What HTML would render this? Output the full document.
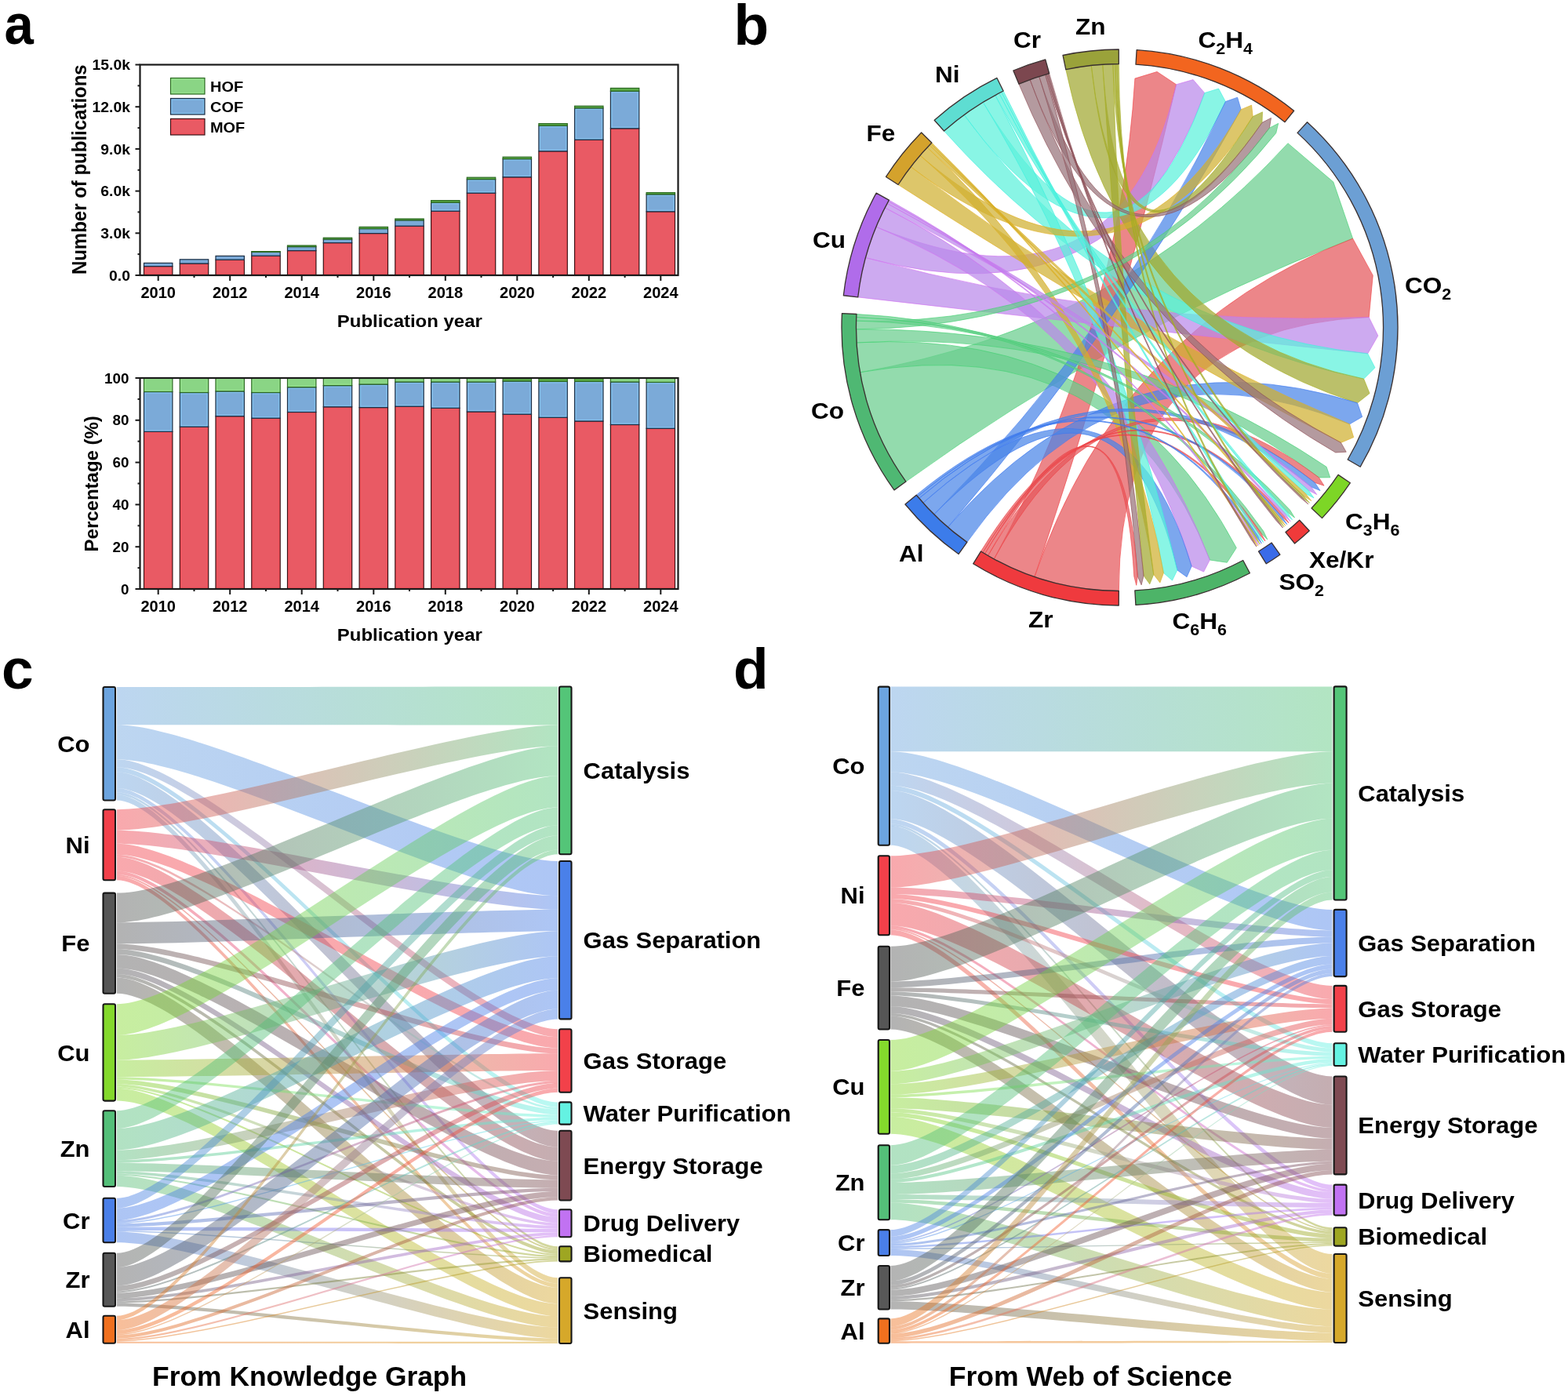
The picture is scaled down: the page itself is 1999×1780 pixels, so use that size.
<!DOCTYPE html>
<html><head><meta charset="utf-8"><title>Figure</title><style>html,body{margin:0;padding:0;background:#fff;width:1999px;height:1780px;overflow:hidden}svg{display:block}</style></head><body>
<svg width="1999" height="1780" viewBox="0 0 1999 1780" font-family="'Liberation Sans', Arial, sans-serif" fill="#000">
<rect width="1999" height="1780" fill="#FFFFFF"/>
<text transform="translate(5.5,56.0) scale(0.92,1)" font-size="73" text-anchor="start" font-weight="bold">a</text>
<text transform="translate(935.5,56.5) scale(1.0,1)" font-size="73" text-anchor="start" font-weight="bold">b</text>
<text transform="translate(2.0,878.0) scale(1.0,1)" font-size="73" text-anchor="start" font-weight="bold">c</text>
<text transform="translate(935.0,877.8) scale(1.0,1)" font-size="73" text-anchor="start" font-weight="bold">d</text>
<rect x="183.5" y="339.6" width="36.4" height="11.4" fill="#E95A64" stroke="#3a1014" stroke-width="1.2"/>
<rect x="185.1" y="341.2" width="33.2" height="8.2" fill="none" stroke="#F65058" stroke-width="1" stroke-opacity="0.8"/>
<rect x="183.5" y="335.4" width="36.4" height="4.2" fill="#7BAAD8" stroke="#1c2f45" stroke-width="1.2"/>
<rect x="229.3" y="336.0" width="36.4" height="15.0" fill="#E95A64" stroke="#3a1014" stroke-width="1.2"/>
<rect x="230.9" y="337.6" width="33.2" height="11.8" fill="none" stroke="#F65058" stroke-width="1" stroke-opacity="0.8"/>
<rect x="229.3" y="330.8" width="36.4" height="5.2" fill="#7BAAD8" stroke="#1c2f45" stroke-width="1.2"/>
<rect x="275.0" y="331.2" width="36.4" height="19.8" fill="#E95A64" stroke="#3a1014" stroke-width="1.2"/>
<rect x="276.6" y="332.8" width="33.2" height="16.6" fill="none" stroke="#F65058" stroke-width="1" stroke-opacity="0.8"/>
<rect x="275.0" y="326.4" width="36.4" height="4.8" fill="#7BAAD8" stroke="#1c2f45" stroke-width="1.2"/>
<rect x="320.8" y="326.2" width="36.4" height="24.8" fill="#E95A64" stroke="#3a1014" stroke-width="1.2"/>
<rect x="322.4" y="327.8" width="33.2" height="21.6" fill="none" stroke="#F65058" stroke-width="1" stroke-opacity="0.8"/>
<rect x="320.8" y="321.2" width="36.4" height="5.0" fill="#7BAAD8" stroke="#1c2f45" stroke-width="1.2"/>
<rect x="320.8" y="320.6" width="36.4" height="0.8" fill="#5BAA47" stroke="#2c6a22" stroke-width="1.2"/>
<rect x="366.5" y="319.6" width="36.4" height="31.4" fill="#E95A64" stroke="#3a1014" stroke-width="1.2"/>
<rect x="368.1" y="321.2" width="33.2" height="28.2" fill="none" stroke="#F65058" stroke-width="1" stroke-opacity="0.8"/>
<rect x="366.5" y="314.6" width="36.4" height="5.0" fill="#7BAAD8" stroke="#1c2f45" stroke-width="1.2"/>
<rect x="366.5" y="313.0" width="36.4" height="1.6" fill="#5BAA47" stroke="#2c6a22" stroke-width="1.2"/>
<rect x="412.3" y="309.6" width="36.4" height="41.4" fill="#E95A64" stroke="#3a1014" stroke-width="1.2"/>
<rect x="413.9" y="311.2" width="33.2" height="38.2" fill="none" stroke="#F65058" stroke-width="1" stroke-opacity="0.8"/>
<rect x="412.3" y="305.0" width="36.4" height="4.6" fill="#7BAAD8" stroke="#1c2f45" stroke-width="1.2"/>
<rect x="412.3" y="303.2" width="36.4" height="1.8" fill="#5BAA47" stroke="#2c6a22" stroke-width="1.2"/>
<rect x="458.1" y="297.6" width="36.4" height="53.4" fill="#E95A64" stroke="#3a1014" stroke-width="1.2"/>
<rect x="459.7" y="299.2" width="33.2" height="50.2" fill="none" stroke="#F65058" stroke-width="1" stroke-opacity="0.8"/>
<rect x="458.1" y="291.6" width="36.4" height="6.0" fill="#7BAAD8" stroke="#1c2f45" stroke-width="1.2"/>
<rect x="458.1" y="289.4" width="36.4" height="2.2" fill="#5BAA47" stroke="#2c6a22" stroke-width="1.2"/>
<rect x="503.8" y="288.2" width="36.4" height="62.8" fill="#E95A64" stroke="#3a1014" stroke-width="1.2"/>
<rect x="505.4" y="289.8" width="33.2" height="59.6" fill="none" stroke="#F65058" stroke-width="1" stroke-opacity="0.8"/>
<rect x="503.8" y="280.8" width="36.4" height="7.4" fill="#7BAAD8" stroke="#1c2f45" stroke-width="1.2"/>
<rect x="503.8" y="279.0" width="36.4" height="1.8" fill="#5BAA47" stroke="#2c6a22" stroke-width="1.2"/>
<rect x="549.6" y="269.2" width="36.4" height="81.8" fill="#E95A64" stroke="#3a1014" stroke-width="1.2"/>
<rect x="551.2" y="270.8" width="33.2" height="78.6" fill="none" stroke="#F65058" stroke-width="1" stroke-opacity="0.8"/>
<rect x="549.6" y="258.2" width="36.4" height="11.0" fill="#7BAAD8" stroke="#1c2f45" stroke-width="1.2"/>
<rect x="551.2" y="259.8" width="33.2" height="7.8" fill="none" stroke="#86CCF6" stroke-width="1" stroke-opacity="0.8"/>
<rect x="549.6" y="255.6" width="36.4" height="2.6" fill="#5BAA47" stroke="#2c6a22" stroke-width="1.2"/>
<rect x="595.3" y="246.2" width="36.4" height="104.8" fill="#E95A64" stroke="#3a1014" stroke-width="1.2"/>
<rect x="596.9" y="247.8" width="33.2" height="101.6" fill="none" stroke="#F65058" stroke-width="1" stroke-opacity="0.8"/>
<rect x="595.3" y="228.6" width="36.4" height="17.6" fill="#7BAAD8" stroke="#1c2f45" stroke-width="1.2"/>
<rect x="596.9" y="230.2" width="33.2" height="14.4" fill="none" stroke="#86CCF6" stroke-width="1" stroke-opacity="0.8"/>
<rect x="595.3" y="226.2" width="36.4" height="2.4" fill="#5BAA47" stroke="#2c6a22" stroke-width="1.2"/>
<rect x="641.1" y="225.8" width="36.4" height="125.2" fill="#E95A64" stroke="#3a1014" stroke-width="1.2"/>
<rect x="642.7" y="227.4" width="33.2" height="122.0" fill="none" stroke="#F65058" stroke-width="1" stroke-opacity="0.8"/>
<rect x="641.1" y="202.6" width="36.4" height="23.2" fill="#7BAAD8" stroke="#1c2f45" stroke-width="1.2"/>
<rect x="642.7" y="204.2" width="33.2" height="20.0" fill="none" stroke="#86CCF6" stroke-width="1" stroke-opacity="0.8"/>
<rect x="641.1" y="200.2" width="36.4" height="2.4" fill="#5BAA47" stroke="#2c6a22" stroke-width="1.2"/>
<rect x="686.9" y="192.8" width="36.4" height="158.2" fill="#E95A64" stroke="#3a1014" stroke-width="1.2"/>
<rect x="688.5" y="194.4" width="33.2" height="155.0" fill="none" stroke="#F65058" stroke-width="1" stroke-opacity="0.8"/>
<rect x="686.9" y="160.2" width="36.4" height="32.6" fill="#7BAAD8" stroke="#1c2f45" stroke-width="1.2"/>
<rect x="688.5" y="161.8" width="33.2" height="29.4" fill="none" stroke="#86CCF6" stroke-width="1" stroke-opacity="0.8"/>
<rect x="686.9" y="157.6" width="36.4" height="2.6" fill="#5BAA47" stroke="#2c6a22" stroke-width="1.2"/>
<rect x="732.6" y="178.2" width="36.4" height="172.8" fill="#E95A64" stroke="#3a1014" stroke-width="1.2"/>
<rect x="734.2" y="179.8" width="33.2" height="169.6" fill="none" stroke="#F65058" stroke-width="1" stroke-opacity="0.8"/>
<rect x="732.6" y="137.8" width="36.4" height="40.4" fill="#7BAAD8" stroke="#1c2f45" stroke-width="1.2"/>
<rect x="734.2" y="139.4" width="33.2" height="37.2" fill="none" stroke="#86CCF6" stroke-width="1" stroke-opacity="0.8"/>
<rect x="732.6" y="135.2" width="36.4" height="2.6" fill="#5BAA47" stroke="#2c6a22" stroke-width="1.2"/>
<rect x="778.4" y="163.8" width="36.4" height="187.2" fill="#E95A64" stroke="#3a1014" stroke-width="1.2"/>
<rect x="780.0" y="165.4" width="33.2" height="184.0" fill="none" stroke="#F65058" stroke-width="1" stroke-opacity="0.8"/>
<rect x="778.4" y="116.2" width="36.4" height="47.6" fill="#7BAAD8" stroke="#1c2f45" stroke-width="1.2"/>
<rect x="780.0" y="117.8" width="33.2" height="44.4" fill="none" stroke="#86CCF6" stroke-width="1" stroke-opacity="0.8"/>
<rect x="778.4" y="112.4" width="36.4" height="3.8" fill="#5BAA47" stroke="#2c6a22" stroke-width="1.2"/>
<rect x="824.1" y="269.8" width="36.4" height="81.2" fill="#E95A64" stroke="#3a1014" stroke-width="1.2"/>
<rect x="825.7" y="271.4" width="33.2" height="78.0" fill="none" stroke="#F65058" stroke-width="1" stroke-opacity="0.8"/>
<rect x="824.1" y="247.8" width="36.4" height="22.0" fill="#7BAAD8" stroke="#1c2f45" stroke-width="1.2"/>
<rect x="825.7" y="249.4" width="33.2" height="18.8" fill="none" stroke="#86CCF6" stroke-width="1" stroke-opacity="0.8"/>
<rect x="824.1" y="245.6" width="36.4" height="2.2" fill="#5BAA47" stroke="#2c6a22" stroke-width="1.2"/>
<rect x="178.5" y="82.5" width="686.0" height="268.5" fill="none" stroke="#1a1a1a" stroke-width="2.2"/>
<line x1="172.5" y1="351.0" x2="178.5" y2="351.0" stroke="#1a1a1a" stroke-width="2"/>
<text transform="translate(166.0,357.8) scale(1.03,1)" font-size="18.8" text-anchor="end" font-weight="bold">0.0</text>
<line x1="175.5" y1="324.1" x2="178.5" y2="324.1" stroke="#1a1a1a" stroke-width="2"/>
<line x1="172.5" y1="297.3" x2="178.5" y2="297.3" stroke="#1a1a1a" stroke-width="2"/>
<text transform="translate(166.0,304.1) scale(1.03,1)" font-size="18.8" text-anchor="end" font-weight="bold">3.0k</text>
<line x1="175.5" y1="270.4" x2="178.5" y2="270.4" stroke="#1a1a1a" stroke-width="2"/>
<line x1="172.5" y1="243.6" x2="178.5" y2="243.6" stroke="#1a1a1a" stroke-width="2"/>
<text transform="translate(166.0,250.4) scale(1.03,1)" font-size="18.8" text-anchor="end" font-weight="bold">6.0k</text>
<line x1="175.5" y1="216.8" x2="178.5" y2="216.8" stroke="#1a1a1a" stroke-width="2"/>
<line x1="172.5" y1="189.9" x2="178.5" y2="189.9" stroke="#1a1a1a" stroke-width="2"/>
<text transform="translate(166.0,196.7) scale(1.03,1)" font-size="18.8" text-anchor="end" font-weight="bold">9.0k</text>
<line x1="175.5" y1="163.1" x2="178.5" y2="163.1" stroke="#1a1a1a" stroke-width="2"/>
<line x1="172.5" y1="136.2" x2="178.5" y2="136.2" stroke="#1a1a1a" stroke-width="2"/>
<text transform="translate(166.0,143.0) scale(1.03,1)" font-size="18.8" text-anchor="end" font-weight="bold">12.0k</text>
<line x1="175.5" y1="109.3" x2="178.5" y2="109.3" stroke="#1a1a1a" stroke-width="2"/>
<line x1="172.5" y1="82.5" x2="178.5" y2="82.5" stroke="#1a1a1a" stroke-width="2"/>
<text transform="translate(166.0,89.3) scale(1.03,1)" font-size="18.8" text-anchor="end" font-weight="bold">15.0k</text>
<line x1="201.7" y1="351" x2="201.7" y2="358" stroke="#1a1a1a" stroke-width="2"/>
<text transform="translate(201.7,379.5) scale(1.03,1)" font-size="19.5" text-anchor="middle" font-weight="bold">2010</text>
<line x1="247.5" y1="351" x2="247.5" y2="354" stroke="#1a1a1a" stroke-width="2"/>
<line x1="293.2" y1="351" x2="293.2" y2="358" stroke="#1a1a1a" stroke-width="2"/>
<text transform="translate(293.2,379.5) scale(1.03,1)" font-size="19.5" text-anchor="middle" font-weight="bold">2012</text>
<line x1="339.0" y1="351" x2="339.0" y2="354" stroke="#1a1a1a" stroke-width="2"/>
<line x1="384.7" y1="351" x2="384.7" y2="358" stroke="#1a1a1a" stroke-width="2"/>
<text transform="translate(384.7,379.5) scale(1.03,1)" font-size="19.5" text-anchor="middle" font-weight="bold">2014</text>
<line x1="430.5" y1="351" x2="430.5" y2="354" stroke="#1a1a1a" stroke-width="2"/>
<line x1="476.3" y1="351" x2="476.3" y2="358" stroke="#1a1a1a" stroke-width="2"/>
<text transform="translate(476.3,379.5) scale(1.03,1)" font-size="19.5" text-anchor="middle" font-weight="bold">2016</text>
<line x1="522.0" y1="351" x2="522.0" y2="354" stroke="#1a1a1a" stroke-width="2"/>
<line x1="567.8" y1="351" x2="567.8" y2="358" stroke="#1a1a1a" stroke-width="2"/>
<text transform="translate(567.8,379.5) scale(1.03,1)" font-size="19.5" text-anchor="middle" font-weight="bold">2018</text>
<line x1="613.5" y1="351" x2="613.5" y2="354" stroke="#1a1a1a" stroke-width="2"/>
<line x1="659.3" y1="351" x2="659.3" y2="358" stroke="#1a1a1a" stroke-width="2"/>
<text transform="translate(659.3,379.5) scale(1.03,1)" font-size="19.5" text-anchor="middle" font-weight="bold">2020</text>
<line x1="705.1" y1="351" x2="705.1" y2="354" stroke="#1a1a1a" stroke-width="2"/>
<line x1="750.8" y1="351" x2="750.8" y2="358" stroke="#1a1a1a" stroke-width="2"/>
<text transform="translate(750.8,379.5) scale(1.03,1)" font-size="19.5" text-anchor="middle" font-weight="bold">2022</text>
<line x1="796.6" y1="351" x2="796.6" y2="354" stroke="#1a1a1a" stroke-width="2"/>
<line x1="842.3" y1="351" x2="842.3" y2="358" stroke="#1a1a1a" stroke-width="2"/>
<text transform="translate(842.3,379.5) scale(1.03,1)" font-size="19.5" text-anchor="middle" font-weight="bold">2024</text>
<text transform="translate(522.3,416.8) scale(1.0,1)" font-size="22" text-anchor="middle" font-weight="bold" textLength="185" lengthAdjust="spacingAndGlyphs">Publication year</text>
<text transform="translate(109.5,216.2) rotate(-90) scale(1,1.04)" font-size="24" text-anchor="middle" font-weight="bold">Number of publications</text>
<rect x="217.5" y="99.5" width="43.5" height="20.5" fill="#8AD585" stroke="#2c6a22" stroke-width="1.2"/>
<rect x="219.1" y="101.1" width="40.3" height="17.3" fill="none" stroke="#9BE88F" stroke-width="1" stroke-opacity="0.8"/>
<text transform="translate(268.0,116.5) scale(1.05,1)" font-size="19" text-anchor="start" font-weight="bold">HOF</text>
<rect x="217.5" y="125.5" width="43.5" height="20.5" fill="#7BAAD8" stroke="#1c2f45" stroke-width="1.2"/>
<rect x="219.1" y="127.1" width="40.3" height="17.3" fill="none" stroke="#86CCF6" stroke-width="1" stroke-opacity="0.8"/>
<text transform="translate(268.0,142.5) scale(1.05,1)" font-size="19" text-anchor="start" font-weight="bold">COF</text>
<rect x="217.5" y="151.5" width="43.5" height="20.5" fill="#E95A64" stroke="#3a1014" stroke-width="1.2"/>
<rect x="219.1" y="153.1" width="40.3" height="17.3" fill="none" stroke="#F65058" stroke-width="1" stroke-opacity="0.8"/>
<text transform="translate(268.0,168.5) scale(1.05,1)" font-size="19" text-anchor="start" font-weight="bold">MOF</text>
<rect x="183.5" y="550.4" width="36.4" height="200.6" fill="#E95A64" stroke="#3a1014" stroke-width="1.2"/>
<rect x="185.1" y="552.0" width="33.2" height="197.4" fill="none" stroke="#F65058" stroke-width="1" stroke-opacity="0.8"/>
<rect x="183.5" y="499.5" width="36.4" height="50.9" fill="#7BAAD8" stroke="#1c2f45" stroke-width="1.2"/>
<rect x="185.1" y="501.1" width="33.2" height="47.7" fill="none" stroke="#86CCF6" stroke-width="1" stroke-opacity="0.8"/>
<rect x="183.5" y="482.0" width="36.4" height="17.5" fill="#8AD585" stroke="#2c6a22" stroke-width="1.2"/>
<rect x="185.1" y="483.6" width="33.2" height="14.3" fill="none" stroke="#9BE88F" stroke-width="1" stroke-opacity="0.8"/>
<rect x="229.3" y="544.2" width="36.4" height="206.8" fill="#E95A64" stroke="#3a1014" stroke-width="1.2"/>
<rect x="230.9" y="545.8" width="33.2" height="203.6" fill="none" stroke="#F65058" stroke-width="1" stroke-opacity="0.8"/>
<rect x="229.3" y="500.5" width="36.4" height="43.7" fill="#7BAAD8" stroke="#1c2f45" stroke-width="1.2"/>
<rect x="230.9" y="502.1" width="33.2" height="40.5" fill="none" stroke="#86CCF6" stroke-width="1" stroke-opacity="0.8"/>
<rect x="229.3" y="482.0" width="36.4" height="18.5" fill="#8AD585" stroke="#2c6a22" stroke-width="1.2"/>
<rect x="230.9" y="483.6" width="33.2" height="15.3" fill="none" stroke="#9BE88F" stroke-width="1" stroke-opacity="0.8"/>
<rect x="275.0" y="530.7" width="36.4" height="220.3" fill="#E95A64" stroke="#3a1014" stroke-width="1.2"/>
<rect x="276.6" y="532.3" width="33.2" height="217.1" fill="none" stroke="#F65058" stroke-width="1" stroke-opacity="0.8"/>
<rect x="275.0" y="498.9" width="36.4" height="31.8" fill="#7BAAD8" stroke="#1c2f45" stroke-width="1.2"/>
<rect x="276.6" y="500.5" width="33.2" height="28.6" fill="none" stroke="#86CCF6" stroke-width="1" stroke-opacity="0.8"/>
<rect x="275.0" y="482.0" width="36.4" height="16.9" fill="#8AD585" stroke="#2c6a22" stroke-width="1.2"/>
<rect x="276.6" y="483.6" width="33.2" height="13.7" fill="none" stroke="#9BE88F" stroke-width="1" stroke-opacity="0.8"/>
<rect x="320.8" y="533.2" width="36.4" height="217.8" fill="#E95A64" stroke="#3a1014" stroke-width="1.2"/>
<rect x="322.4" y="534.8" width="33.2" height="214.6" fill="none" stroke="#F65058" stroke-width="1" stroke-opacity="0.8"/>
<rect x="320.8" y="500.5" width="36.4" height="32.7" fill="#7BAAD8" stroke="#1c2f45" stroke-width="1.2"/>
<rect x="322.4" y="502.1" width="33.2" height="29.5" fill="none" stroke="#86CCF6" stroke-width="1" stroke-opacity="0.8"/>
<rect x="320.8" y="482.0" width="36.4" height="18.5" fill="#8AD585" stroke="#2c6a22" stroke-width="1.2"/>
<rect x="322.4" y="483.6" width="33.2" height="15.3" fill="none" stroke="#9BE88F" stroke-width="1" stroke-opacity="0.8"/>
<rect x="366.5" y="525.5" width="36.4" height="225.5" fill="#E95A64" stroke="#3a1014" stroke-width="1.2"/>
<rect x="368.1" y="527.1" width="33.2" height="222.3" fill="none" stroke="#F65058" stroke-width="1" stroke-opacity="0.8"/>
<rect x="366.5" y="493.7" width="36.4" height="31.8" fill="#7BAAD8" stroke="#1c2f45" stroke-width="1.2"/>
<rect x="368.1" y="495.3" width="33.2" height="28.6" fill="none" stroke="#86CCF6" stroke-width="1" stroke-opacity="0.8"/>
<rect x="366.5" y="482.0" width="36.4" height="11.7" fill="#8AD585" stroke="#2c6a22" stroke-width="1.2"/>
<rect x="368.1" y="483.6" width="33.2" height="8.5" fill="none" stroke="#9BE88F" stroke-width="1" stroke-opacity="0.8"/>
<rect x="412.3" y="518.8" width="36.4" height="232.2" fill="#E95A64" stroke="#3a1014" stroke-width="1.2"/>
<rect x="413.9" y="520.4" width="33.2" height="229.0" fill="none" stroke="#F65058" stroke-width="1" stroke-opacity="0.8"/>
<rect x="412.3" y="491.6" width="36.4" height="27.2" fill="#7BAAD8" stroke="#1c2f45" stroke-width="1.2"/>
<rect x="413.9" y="493.2" width="33.2" height="24.0" fill="none" stroke="#86CCF6" stroke-width="1" stroke-opacity="0.8"/>
<rect x="412.3" y="482.0" width="36.4" height="9.6" fill="#8AD585" stroke="#2c6a22" stroke-width="1.2"/>
<rect x="413.9" y="483.6" width="33.2" height="6.4" fill="none" stroke="#9BE88F" stroke-width="1" stroke-opacity="0.8"/>
<rect x="458.1" y="519.6" width="36.4" height="231.4" fill="#E95A64" stroke="#3a1014" stroke-width="1.2"/>
<rect x="459.7" y="521.2" width="33.2" height="228.2" fill="none" stroke="#F65058" stroke-width="1" stroke-opacity="0.8"/>
<rect x="458.1" y="490.0" width="36.4" height="29.6" fill="#7BAAD8" stroke="#1c2f45" stroke-width="1.2"/>
<rect x="459.7" y="491.6" width="33.2" height="26.4" fill="none" stroke="#86CCF6" stroke-width="1" stroke-opacity="0.8"/>
<rect x="458.1" y="482.0" width="36.4" height="8.0" fill="#8AD585" stroke="#2c6a22" stroke-width="1.2"/>
<rect x="503.8" y="518.2" width="36.4" height="232.8" fill="#E95A64" stroke="#3a1014" stroke-width="1.2"/>
<rect x="505.4" y="519.8" width="33.2" height="229.6" fill="none" stroke="#F65058" stroke-width="1" stroke-opacity="0.8"/>
<rect x="503.8" y="487.0" width="36.4" height="31.2" fill="#7BAAD8" stroke="#1c2f45" stroke-width="1.2"/>
<rect x="505.4" y="488.6" width="33.2" height="28.0" fill="none" stroke="#86CCF6" stroke-width="1" stroke-opacity="0.8"/>
<rect x="503.8" y="482.0" width="36.4" height="5.0" fill="#8AD585" stroke="#2c6a22" stroke-width="1.2"/>
<rect x="549.6" y="520.3" width="36.4" height="230.7" fill="#E95A64" stroke="#3a1014" stroke-width="1.2"/>
<rect x="551.2" y="521.9" width="33.2" height="227.5" fill="none" stroke="#F65058" stroke-width="1" stroke-opacity="0.8"/>
<rect x="549.6" y="487.0" width="36.4" height="33.3" fill="#7BAAD8" stroke="#1c2f45" stroke-width="1.2"/>
<rect x="551.2" y="488.6" width="33.2" height="30.1" fill="none" stroke="#86CCF6" stroke-width="1" stroke-opacity="0.8"/>
<rect x="549.6" y="482.0" width="36.4" height="5.0" fill="#8AD585" stroke="#2c6a22" stroke-width="1.2"/>
<rect x="595.3" y="525.0" width="36.4" height="226.0" fill="#E95A64" stroke="#3a1014" stroke-width="1.2"/>
<rect x="596.9" y="526.6" width="33.2" height="222.8" fill="none" stroke="#F65058" stroke-width="1" stroke-opacity="0.8"/>
<rect x="595.3" y="487.0" width="36.4" height="38.0" fill="#7BAAD8" stroke="#1c2f45" stroke-width="1.2"/>
<rect x="596.9" y="488.6" width="33.2" height="34.8" fill="none" stroke="#86CCF6" stroke-width="1" stroke-opacity="0.8"/>
<rect x="595.3" y="482.0" width="36.4" height="5.0" fill="#8AD585" stroke="#2c6a22" stroke-width="1.2"/>
<rect x="641.1" y="528.2" width="36.4" height="222.8" fill="#E95A64" stroke="#3a1014" stroke-width="1.2"/>
<rect x="642.7" y="529.8" width="33.2" height="219.6" fill="none" stroke="#F65058" stroke-width="1" stroke-opacity="0.8"/>
<rect x="641.1" y="486.0" width="36.4" height="42.2" fill="#7BAAD8" stroke="#1c2f45" stroke-width="1.2"/>
<rect x="642.7" y="487.6" width="33.2" height="39.0" fill="none" stroke="#86CCF6" stroke-width="1" stroke-opacity="0.8"/>
<rect x="641.1" y="482.0" width="36.4" height="4.0" fill="#5BAA47" stroke="#2c6a22" stroke-width="1.2"/>
<rect x="686.9" y="532.3" width="36.4" height="218.7" fill="#E95A64" stroke="#3a1014" stroke-width="1.2"/>
<rect x="688.5" y="533.9" width="33.2" height="215.5" fill="none" stroke="#F65058" stroke-width="1" stroke-opacity="0.8"/>
<rect x="686.9" y="486.4" width="36.4" height="45.9" fill="#7BAAD8" stroke="#1c2f45" stroke-width="1.2"/>
<rect x="688.5" y="488.0" width="33.2" height="42.7" fill="none" stroke="#86CCF6" stroke-width="1" stroke-opacity="0.8"/>
<rect x="686.9" y="482.0" width="36.4" height="4.4" fill="#5BAA47" stroke="#2c6a22" stroke-width="1.2"/>
<rect x="732.6" y="537.0" width="36.4" height="214.0" fill="#E95A64" stroke="#3a1014" stroke-width="1.2"/>
<rect x="734.2" y="538.6" width="33.2" height="210.8" fill="none" stroke="#F65058" stroke-width="1" stroke-opacity="0.8"/>
<rect x="732.6" y="486.4" width="36.4" height="50.6" fill="#7BAAD8" stroke="#1c2f45" stroke-width="1.2"/>
<rect x="734.2" y="488.0" width="33.2" height="47.4" fill="none" stroke="#86CCF6" stroke-width="1" stroke-opacity="0.8"/>
<rect x="732.6" y="482.0" width="36.4" height="4.4" fill="#5BAA47" stroke="#2c6a22" stroke-width="1.2"/>
<rect x="778.4" y="541.5" width="36.4" height="209.5" fill="#E95A64" stroke="#3a1014" stroke-width="1.2"/>
<rect x="780.0" y="543.1" width="33.2" height="206.3" fill="none" stroke="#F65058" stroke-width="1" stroke-opacity="0.8"/>
<rect x="778.4" y="487.0" width="36.4" height="54.5" fill="#7BAAD8" stroke="#1c2f45" stroke-width="1.2"/>
<rect x="780.0" y="488.6" width="33.2" height="51.3" fill="none" stroke="#86CCF6" stroke-width="1" stroke-opacity="0.8"/>
<rect x="778.4" y="482.0" width="36.4" height="5.0" fill="#8AD585" stroke="#2c6a22" stroke-width="1.2"/>
<rect x="824.1" y="546.3" width="36.4" height="204.7" fill="#E95A64" stroke="#3a1014" stroke-width="1.2"/>
<rect x="825.7" y="547.9" width="33.2" height="201.5" fill="none" stroke="#F65058" stroke-width="1" stroke-opacity="0.8"/>
<rect x="824.1" y="487.4" width="36.4" height="58.9" fill="#7BAAD8" stroke="#1c2f45" stroke-width="1.2"/>
<rect x="825.7" y="489.0" width="33.2" height="55.7" fill="none" stroke="#86CCF6" stroke-width="1" stroke-opacity="0.8"/>
<rect x="824.1" y="482.0" width="36.4" height="5.4" fill="#8AD585" stroke="#2c6a22" stroke-width="1.2"/>
<rect x="178.5" y="482" width="686.0" height="269" fill="none" stroke="#1a1a1a" stroke-width="2.2"/>
<line x1="172.5" y1="751.0" x2="178.5" y2="751.0" stroke="#1a1a1a" stroke-width="2"/>
<text transform="translate(164.5,757.5) scale(1.02,1)" font-size="18.5" text-anchor="end" font-weight="bold">0</text>
<line x1="175.5" y1="724.1" x2="178.5" y2="724.1" stroke="#1a1a1a" stroke-width="2"/>
<line x1="172.5" y1="697.2" x2="178.5" y2="697.2" stroke="#1a1a1a" stroke-width="2"/>
<text transform="translate(164.5,703.7) scale(1.02,1)" font-size="18.5" text-anchor="end" font-weight="bold">20</text>
<line x1="175.5" y1="670.3" x2="178.5" y2="670.3" stroke="#1a1a1a" stroke-width="2"/>
<line x1="172.5" y1="643.4" x2="178.5" y2="643.4" stroke="#1a1a1a" stroke-width="2"/>
<text transform="translate(164.5,649.9) scale(1.02,1)" font-size="18.5" text-anchor="end" font-weight="bold">40</text>
<line x1="175.5" y1="616.5" x2="178.5" y2="616.5" stroke="#1a1a1a" stroke-width="2"/>
<line x1="172.5" y1="589.6" x2="178.5" y2="589.6" stroke="#1a1a1a" stroke-width="2"/>
<text transform="translate(164.5,596.1) scale(1.02,1)" font-size="18.5" text-anchor="end" font-weight="bold">60</text>
<line x1="175.5" y1="562.7" x2="178.5" y2="562.7" stroke="#1a1a1a" stroke-width="2"/>
<line x1="172.5" y1="535.8" x2="178.5" y2="535.8" stroke="#1a1a1a" stroke-width="2"/>
<text transform="translate(164.5,542.3) scale(1.02,1)" font-size="18.5" text-anchor="end" font-weight="bold">80</text>
<line x1="175.5" y1="508.9" x2="178.5" y2="508.9" stroke="#1a1a1a" stroke-width="2"/>
<line x1="172.5" y1="482.0" x2="178.5" y2="482.0" stroke="#1a1a1a" stroke-width="2"/>
<text transform="translate(164.5,488.5) scale(1.02,1)" font-size="18.5" text-anchor="end" font-weight="bold">100</text>
<line x1="201.7" y1="751" x2="201.7" y2="758" stroke="#1a1a1a" stroke-width="2"/>
<text transform="translate(201.7,779.5) scale(1.03,1)" font-size="19.5" text-anchor="middle" font-weight="bold">2010</text>
<line x1="247.5" y1="751" x2="247.5" y2="754" stroke="#1a1a1a" stroke-width="2"/>
<line x1="293.2" y1="751" x2="293.2" y2="758" stroke="#1a1a1a" stroke-width="2"/>
<text transform="translate(293.2,779.5) scale(1.03,1)" font-size="19.5" text-anchor="middle" font-weight="bold">2012</text>
<line x1="339.0" y1="751" x2="339.0" y2="754" stroke="#1a1a1a" stroke-width="2"/>
<line x1="384.7" y1="751" x2="384.7" y2="758" stroke="#1a1a1a" stroke-width="2"/>
<text transform="translate(384.7,779.5) scale(1.03,1)" font-size="19.5" text-anchor="middle" font-weight="bold">2014</text>
<line x1="430.5" y1="751" x2="430.5" y2="754" stroke="#1a1a1a" stroke-width="2"/>
<line x1="476.3" y1="751" x2="476.3" y2="758" stroke="#1a1a1a" stroke-width="2"/>
<text transform="translate(476.3,779.5) scale(1.03,1)" font-size="19.5" text-anchor="middle" font-weight="bold">2016</text>
<line x1="522.0" y1="751" x2="522.0" y2="754" stroke="#1a1a1a" stroke-width="2"/>
<line x1="567.8" y1="751" x2="567.8" y2="758" stroke="#1a1a1a" stroke-width="2"/>
<text transform="translate(567.8,779.5) scale(1.03,1)" font-size="19.5" text-anchor="middle" font-weight="bold">2018</text>
<line x1="613.5" y1="751" x2="613.5" y2="754" stroke="#1a1a1a" stroke-width="2"/>
<line x1="659.3" y1="751" x2="659.3" y2="758" stroke="#1a1a1a" stroke-width="2"/>
<text transform="translate(659.3,779.5) scale(1.03,1)" font-size="19.5" text-anchor="middle" font-weight="bold">2020</text>
<line x1="705.1" y1="751" x2="705.1" y2="754" stroke="#1a1a1a" stroke-width="2"/>
<line x1="750.8" y1="751" x2="750.8" y2="758" stroke="#1a1a1a" stroke-width="2"/>
<text transform="translate(750.8,779.5) scale(1.03,1)" font-size="19.5" text-anchor="middle" font-weight="bold">2022</text>
<line x1="796.6" y1="751" x2="796.6" y2="754" stroke="#1a1a1a" stroke-width="2"/>
<line x1="842.3" y1="751" x2="842.3" y2="758" stroke="#1a1a1a" stroke-width="2"/>
<text transform="translate(842.3,779.5) scale(1.03,1)" font-size="19.5" text-anchor="middle" font-weight="bold">2024</text>
<text transform="translate(522.3,816.8) scale(1.0,1)" font-size="22" text-anchor="middle" font-weight="bold" textLength="185" lengthAdjust="spacingAndGlyphs">Publication year</text>
<text transform="translate(124.5,616.8) rotate(-90) scale(1,0.98)" font-size="24" text-anchor="middle" font-weight="bold">Percentage (%)</text>
<path d="M1096.41,474.73 A336.0,336.0 0 0 0 1154.98,614.05 Q1427.5,417.5 1724.60,304.13 L1699.88,232.09 L1641.93,182.67 Q1427.5,417.5 1096.41,474.73 Z" fill="#69CD8D" fill-opacity="0.72" stroke="#3FD070" stroke-opacity="0.7" stroke-width="0.9"/>
<path d="M1318.89,735.46 A336.0,336.0 0 0 0 1426.33,753.50 Q1427.5,417.5 1745.23,404.49 L1750.25,351.16 L1724.60,304.13 Q1427.5,417.5 1318.89,735.46 Z" fill="#E5575B" fill-opacity="0.72" stroke="#F03C40" stroke-opacity="0.7" stroke-width="0.9"/>
<path d="M1267.23,712.81 A336.0,336.0 0 0 0 1318.89,735.46 Q1427.5,417.5 1499.58,107.78 L1475.07,91.45 L1446.91,100.09 Q1427.5,417.5 1267.23,712.81 Z" fill="#E5575B" fill-opacity="0.72" stroke="#F03C40" stroke-opacity="0.7" stroke-width="0.9"/>
<path d="M1103.49,328.54 A336.0,336.0 0 0 0 1093.73,378.88 Q1427.5,417.5 1743.74,450.89 L1756.83,428.09 L1745.23,404.49 Q1427.5,417.5 1103.49,328.54 Z" fill="#BA89EA" fill-opacity="0.72" stroke="#D070F0" stroke-opacity="0.7" stroke-width="0.9"/>
<path d="M1116.94,289.25 A336.0,336.0 0 0 0 1103.49,328.54 Q1427.5,417.5 1535.74,118.49 L1521.08,101.57 L1499.58,107.78 Q1427.5,417.5 1116.94,289.25 Z" fill="#BA89EA" fill-opacity="0.72" stroke="#D070F0" stroke-opacity="0.7" stroke-width="0.9"/>
<path d="M1092.06,436.89 A336.0,336.0 0 0 0 1096.41,474.73 Q1427.5,417.5 1542.36,714.03 L1564.33,717.25 L1576.30,698.54 Q1427.5,417.5 1092.06,436.89 Z" fill="#69CD8D" fill-opacity="0.72" stroke="#3FD070" stroke-opacity="0.7" stroke-width="0.9"/>
<path d="M1229.11,146.32 A336.0,336.0 0 0 0 1203.55,167.02 Q1427.5,417.5 1738.66,483.12 L1752.97,468.86 L1743.74,450.89 Q1427.5,417.5 1229.11,146.32 Z" fill="#5CF1DB" fill-opacity="0.72" stroke="#3CF0E0" stroke-opacity="0.7" stroke-width="0.9"/>
<path d="M1391.24,83.46 A336.0,336.0 0 0 0 1358.79,88.60 Q1427.5,417.5 1730.55,513.87 L1746.11,501.53 L1738.66,483.12 Q1427.5,417.5 1391.24,83.46 Z" fill="#A1A830" fill-opacity="0.72" stroke="#A8B020" stroke-opacity="0.7" stroke-width="0.9"/>
<path d="M1253.23,130.22 A336.0,336.0 0 0 0 1229.11,146.32 Q1427.5,417.5 1562.40,129.53 L1553.59,113.08 L1535.74,118.49 Q1427.5,417.5 1253.23,130.22 Z" fill="#5CF1DB" fill-opacity="0.72" stroke="#3CF0E0" stroke-opacity="0.7" stroke-width="0.9"/>
<path d="M1208.37,672.21 A336.0,336.0 0 0 0 1232.86,691.38 Q1427.5,417.5 1720.60,540.85 L1736.67,531.45 L1730.55,513.87 Q1427.5,417.5 1208.37,672.21 Z" fill="#4985E7" fill-opacity="0.72" stroke="#3C78F0" stroke-opacity="0.7" stroke-width="0.9"/>
<path d="M1161.15,212.67 A336.0,336.0 0 0 0 1145.07,235.49 Q1427.5,417.5 1709.55,564.38 L1725.72,557.62 L1720.60,540.85 Q1427.5,417.5 1161.15,212.67 Z" fill="#D0B030" fill-opacity="0.72" stroke="#E0B020" stroke-opacity="0.7" stroke-width="0.9"/>
<path d="M1128.19,264.83 A336.0,336.0 0 0 0 1116.94,289.25 Q1427.5,417.5 1519.17,722.00 L1534.58,729.12 L1542.36,714.03 Q1427.5,417.5 1128.19,264.83 Z" fill="#BA89EA" fill-opacity="0.72" stroke="#D070F0" stroke-opacity="0.7" stroke-width="0.9"/>
<path d="M1190.80,655.97 A336.0,336.0 0 0 0 1208.37,672.21 Q1427.5,417.5 1582.15,139.64 L1577.60,124.17 L1562.40,129.53 Q1427.5,417.5 1190.80,655.97 Z" fill="#4985E7" fill-opacity="0.72" stroke="#3C78F0" stroke-opacity="0.7" stroke-width="0.9"/>
<path d="M1176.80,641.21 A336.0,336.0 0 0 0 1190.80,655.97 Q1427.5,417.5 1500.88,726.92 L1513.05,735.70 L1519.17,722.00 Q1427.5,417.5 1176.80,641.21 Z" fill="#4985E7" fill-opacity="0.72" stroke="#3C78F0" stroke-opacity="0.7" stroke-width="0.9"/>
<path d="M1268.74,121.38 A336.0,336.0 0 0 0 1253.23,130.22 Q1427.5,417.5 1483.42,730.54 L1494.51,740.11 L1500.88,726.92 Q1427.5,417.5 1268.74,121.38 Z" fill="#5CF1DB" fill-opacity="0.72" stroke="#3CF0E0" stroke-opacity="0.7" stroke-width="0.9"/>
<path d="M1172.97,198.16 A336.0,336.0 0 0 0 1161.15,212.67 Q1427.5,417.5 1597.19,148.56 L1595.60,134.11 L1582.15,139.64 Q1427.5,417.5 1172.97,198.16 Z" fill="#D0B030" fill-opacity="0.72" stroke="#E0B020" stroke-opacity="0.7" stroke-width="0.9"/>
<path d="M1091.51,419.83 A336.0,336.0 0 0 0 1092.06,436.89 Q1427.5,417.5 1681.47,608.88 L1695.75,608.84 L1691.13,595.32 Q1427.5,417.5 1091.51,419.83 Z" fill="#69CD8D" fill-opacity="0.72" stroke="#3FD070" stroke-opacity="0.7" stroke-width="0.9"/>
<path d="M1313.13,101.56 A336.0,336.0 0 0 0 1298.92,107.08 Q1427.5,417.5 1702.62,576.98 L1716.23,576.26 L1709.55,564.38 Q1427.5,417.5 1313.13,101.56 Z" fill="#97737A" fill-opacity="0.72" stroke="#8C4850" stroke-opacity="0.7" stroke-width="0.9"/>
<path d="M1405.76,82.20 A336.0,336.0 0 0 0 1391.24,83.46 Q1427.5,417.5 1608.99,156.37 L1609.48,142.81 L1597.19,148.56 Q1427.5,417.5 1405.76,82.20 Z" fill="#A1A830" fill-opacity="0.72" stroke="#A8B020" stroke-opacity="0.7" stroke-width="0.9"/>
<path d="M1182.09,188.00 A336.0,336.0 0 0 0 1172.97,198.16 Q1427.5,417.5 1470.76,732.54 L1478.89,742.97 L1483.42,730.54 Q1427.5,417.5 1182.09,188.00 Z" fill="#D0B030" fill-opacity="0.72" stroke="#E0B020" stroke-opacity="0.7" stroke-width="0.9"/>
<path d="M1418.90,81.61 A336.0,336.0 0 0 0 1405.76,82.20 Q1427.5,417.5 1458.03,734.03 L1465.74,744.77 L1470.76,732.54 Q1427.5,417.5 1418.90,81.61 Z" fill="#A1A830" fill-opacity="0.72" stroke="#A8B020" stroke-opacity="0.7" stroke-width="0.9"/>
<path d="M1324.79,97.58 A336.0,336.0 0 0 0 1313.13,101.56 Q1427.5,417.5 1618.43,163.20 L1620.48,150.42 L1608.99,156.37 Q1427.5,417.5 1324.79,97.58 Z" fill="#97737A" fill-opacity="0.72" stroke="#8C4850" stroke-opacity="0.7" stroke-width="0.9"/>
<path d="M1091.61,409.03 A336.0,336.0 0 0 0 1091.51,419.83 Q1427.5,417.5 1626.76,169.67 L1629.68,157.32 L1618.43,163.20 Q1427.5,417.5 1091.61,409.03 Z" fill="#69CD8D" fill-opacity="0.72" stroke="#3FD070" stroke-opacity="0.7" stroke-width="0.9"/>
<path d="M1259.53,708.50 A336.0,336.0 0 0 0 1267.23,712.81 Q1427.5,417.5 1676.37,615.46 L1688.03,619.23 L1681.47,608.88 Q1427.5,417.5 1259.53,708.50 Z" fill="#E5575B" fill-opacity="0.72" stroke="#F03C40" stroke-opacity="0.7" stroke-width="0.9"/>
<path d="M1332.63,95.17 A336.0,336.0 0 0 0 1324.79,97.58 Q1427.5,417.5 1450.25,734.68 L1455.11,745.84 L1458.03,734.03 Q1427.5,417.5 1332.63,95.17 Z" fill="#97737A" fill-opacity="0.72" stroke="#8C4850" stroke-opacity="0.7" stroke-width="0.9"/>
<path d="M1171.69,635.35 A336.0,336.0 0 0 0 1176.80,641.21 Q1427.5,417.5 1671.81,621.05 L1683.03,625.53 L1676.37,615.46 Q1427.5,417.5 1171.69,635.35 Z" fill="#4985E7" fill-opacity="0.72" stroke="#3C78F0" stroke-opacity="0.7" stroke-width="0.9"/>
<path d="M1131.01,259.41 A336.0,336.0 0 0 0 1128.19,264.83 Q1427.5,417.5 1668.22,625.29 L1678.80,630.62 L1671.81,621.05 Q1427.5,417.5 1131.01,259.41 Z" fill="#BA89EA" fill-opacity="0.72" stroke="#D070F0" stroke-opacity="0.7" stroke-width="0.9"/>
<path d="M1273.67,118.78 A336.0,336.0 0 0 0 1268.74,121.38 Q1427.5,417.5 1664.56,629.46 L1675.04,634.97 L1668.22,625.29 Q1427.5,417.5 1273.67,118.78 Z" fill="#5CF1DB" fill-opacity="0.72" stroke="#3CF0E0" stroke-opacity="0.7" stroke-width="0.9"/>
<path d="M1091.75,404.48 A336.0,336.0 0 0 0 1091.61,409.03 Q1427.5,417.5 1641.11,653.08 L1650.53,660.04 L1644.38,650.07 Q1427.5,417.5 1091.75,404.48 Z" fill="#69CD8D" fill-opacity="0.72" stroke="#3FD070" stroke-opacity="0.7" stroke-width="0.9"/>
<path d="M1255.47,706.12 A336.0,336.0 0 0 0 1259.53,708.50 Q1427.5,417.5 1445.81,734.97 L1448.77,746.31 L1450.25,734.68 Q1427.5,417.5 1255.47,706.12 Z" fill="#E5575B" fill-opacity="0.72" stroke="#F03C40" stroke-opacity="0.7" stroke-width="0.9"/>
<path d="M1184.95,184.98 A336.0,336.0 0 0 0 1182.09,188.00 Q1427.5,417.5 1661.95,632.34 L1671.79,638.62 L1664.56,629.46 Q1427.5,417.5 1184.95,184.98 Z" fill="#D0B030" fill-opacity="0.72" stroke="#E0B020" stroke-opacity="0.7" stroke-width="0.9"/>
<path d="M1091.93,400.50 A336.0,336.0 0 0 0 1091.75,404.48 Q1427.5,417.5 1607.62,679.57 L1615.79,687.90 L1610.81,677.35 Q1427.5,417.5 1091.93,400.50 Z" fill="#69CD8D" fill-opacity="0.72" stroke="#3FD070" stroke-opacity="0.7" stroke-width="0.9"/>
<path d="M1276.66,117.26 A336.0,336.0 0 0 0 1273.67,118.78 Q1427.5,417.5 1638.63,655.30 L1647.55,662.75 L1641.11,653.08 Q1427.5,417.5 1276.66,117.26 Z" fill="#5CF1DB" fill-opacity="0.72" stroke="#3CF0E0" stroke-opacity="0.7" stroke-width="0.9"/>
<path d="M1421.75,81.55 A336.0,336.0 0 0 0 1418.90,81.61 Q1427.5,417.5 1660.07,634.38 L1669.46,641.16 L1661.95,632.34 Q1427.5,417.5 1421.75,81.55 Z" fill="#A1A830" fill-opacity="0.72" stroke="#A8B020" stroke-opacity="0.7" stroke-width="0.9"/>
<path d="M1252.95,704.60 A336.0,336.0 0 0 0 1255.47,706.12 Q1427.5,417.5 1634.45,658.95 L1643.02,666.74 L1636.55,657.13 Q1427.5,417.5 1252.95,704.60 Z" fill="#E5575B" fill-opacity="0.72" stroke="#F03C40" stroke-opacity="0.7" stroke-width="0.9"/>
<path d="M1169.76,633.06 A336.0,336.0 0 0 0 1171.69,635.35 Q1427.5,417.5 1632.33,660.75 L1640.84,668.61 L1634.45,658.95 Q1427.5,417.5 1169.76,633.06 Z" fill="#4985E7" fill-opacity="0.72" stroke="#3C78F0" stroke-opacity="0.7" stroke-width="0.9"/>
<path d="M1132.46,256.72 A336.0,336.0 0 0 0 1131.01,259.41 Q1427.5,417.5 1636.55,657.13 L1645.19,664.85 L1638.63,655.30 Q1427.5,417.5 1132.46,256.72 Z" fill="#BA89EA" fill-opacity="0.72" stroke="#D070F0" stroke-opacity="0.7" stroke-width="0.9"/>
<path d="M1250.44,703.06 A336.0,336.0 0 0 0 1252.95,704.60 Q1427.5,417.5 1605.32,681.13 L1612.94,689.86 L1607.62,679.57 Q1427.5,417.5 1250.44,703.06 Z" fill="#E5575B" fill-opacity="0.72" stroke="#F03C40" stroke-opacity="0.7" stroke-width="0.9"/>
<path d="M1279.15,116.02 A336.0,336.0 0 0 0 1276.66,117.26 Q1427.5,417.5 1603.02,682.68 L1610.56,691.47 L1605.32,681.13 Q1427.5,417.5 1279.15,116.02 Z" fill="#5CF1DB" fill-opacity="0.72" stroke="#3CF0E0" stroke-opacity="0.7" stroke-width="0.9"/>
<path d="M1186.60,183.27 A336.0,336.0 0 0 0 1184.95,184.98 Q1427.5,417.5 1630.63,662.17 L1638.86,670.28 L1632.33,660.75 Q1427.5,417.5 1186.60,183.27 Z" fill="#D0B030" fill-opacity="0.72" stroke="#E0B020" stroke-opacity="0.7" stroke-width="0.9"/>
<path d="M1424.04,81.52 A336.0,336.0 0 0 0 1421.75,81.55 Q1427.5,417.5 1628.92,663.58 L1637.09,671.75 L1630.63,662.17 Q1427.5,417.5 1424.04,81.52 Z" fill="#A1A830" fill-opacity="0.72" stroke="#A8B020" stroke-opacity="0.7" stroke-width="0.9"/>
<path d="M1168.23,631.22 A336.0,336.0 0 0 0 1169.76,633.06 Q1427.5,417.5 1601.16,683.89 L1608.40,692.90 L1603.02,682.68 Q1427.5,417.5 1168.23,631.22 Z" fill="#4985E7" fill-opacity="0.72" stroke="#3C78F0" stroke-opacity="0.7" stroke-width="0.9"/>
<path d="M1426.33,81.50 A336.0,336.0 0 0 0 1424.04,81.52 Q1427.5,417.5 1599.30,685.10 L1606.48,694.15 L1601.16,683.89 Q1427.5,417.5 1426.33,81.50 Z" fill="#A1A830" fill-opacity="0.72" stroke="#A8B020" stroke-opacity="0.7" stroke-width="0.9"/>
<path d="M1334.32,94.68 A336.0,336.0 0 0 0 1332.63,95.17 Q1427.5,417.5 1658.93,635.59 L1667.89,642.85 L1660.07,634.38 Q1427.5,417.5 1334.32,94.68 Z" fill="#97737A" fill-opacity="0.72" stroke="#8C4850" stroke-opacity="0.7" stroke-width="0.9"/>
<path d="M1336.01,94.19 A336.0,336.0 0 0 0 1334.32,94.68 Q1427.5,417.5 1627.62,664.63 L1635.53,673.03 L1628.92,663.58 Q1427.5,417.5 1336.01,94.19 Z" fill="#97737A" fill-opacity="0.72" stroke="#8C4850" stroke-opacity="0.7" stroke-width="0.9"/>
<path d="M1133.34,255.12 A336.0,336.0 0 0 0 1132.46,256.72 Q1427.5,417.5 1597.89,686.00 L1604.78,695.24 L1599.30,685.10 Q1427.5,417.5 1133.34,255.12 Z" fill="#BA89EA" fill-opacity="0.72" stroke="#D070F0" stroke-opacity="0.7" stroke-width="0.9"/>
<path d="M1187.85,181.99 A336.0,336.0 0 0 0 1186.60,183.27 Q1427.5,417.5 1596.48,686.88 L1603.33,696.17 L1597.89,686.00 Q1427.5,417.5 1187.85,181.99 Z" fill="#D0B030" fill-opacity="0.72" stroke="#E0B020" stroke-opacity="0.7" stroke-width="0.9"/>
<path d="M1337.71,93.72 A336.0,336.0 0 0 0 1336.01,94.19 Q1427.5,417.5 1595.07,687.77 L1601.86,697.08 L1596.48,686.88 Q1427.5,417.5 1337.71,93.72 Z" fill="#97737A" fill-opacity="0.72" stroke="#8C4850" stroke-opacity="0.7" stroke-width="0.9"/>
<path d="M1449.14,63.66 A354.5,354.5 0 0 1 1649.63,141.22 L1638.04,155.64 A336.0,336.0 0 0 0 1448.01,82.13 Z" fill="#F2651F" stroke="#3a3030" stroke-width="1.3" stroke-linejoin="round"/>
<path d="M1666.54,155.72 A354.5,354.5 0 0 1 1734.20,595.29 L1718.19,586.01 A336.0,336.0 0 0 0 1654.07,169.38 Z" fill="#6C9FD4" stroke="#3a3030" stroke-width="1.3" stroke-linejoin="round"/>
<path d="M1721.39,615.73 A354.5,354.5 0 0 1 1685.50,660.62 L1672.03,647.93 A336.0,336.0 0 0 0 1706.06,605.39 Z" fill="#7DD626" stroke="#3a3030" stroke-width="1.3" stroke-linejoin="round"/>
<path d="M1669.27,676.76 A354.5,354.5 0 0 1 1650.59,693.00 L1638.95,678.62 A336.0,336.0 0 0 0 1656.65,663.23 Z" fill="#F03A3A" stroke="#3a3030" stroke-width="1.3" stroke-linejoin="round"/>
<path d="M1631.85,707.18 A354.5,354.5 0 0 1 1614.31,718.79 L1604.56,703.06 A336.0,336.0 0 0 0 1621.18,692.06 Z" fill="#3A6BE8" stroke="#3a3030" stroke-width="1.3" stroke-linejoin="round"/>
<path d="M1593.38,730.79 A354.5,354.5 0 0 1 1447.91,771.41 L1446.84,752.94 A336.0,336.0 0 0 0 1584.72,714.45 Z" fill="#4DB468" stroke="#3a3030" stroke-width="1.3" stroke-linejoin="round"/>
<path d="M1426.26,772.00 A354.5,354.5 0 0 1 1240.69,718.79 L1250.44,703.06 A336.0,336.0 0 0 0 1426.33,753.50 Z" fill="#EF3A3E" stroke="#3a3030" stroke-width="1.3" stroke-linejoin="round"/>
<path d="M1222.14,706.46 A354.5,354.5 0 0 1 1153.96,642.99 L1168.23,631.22 A336.0,336.0 0 0 0 1232.86,691.38 Z" fill="#3C7CEA" stroke="#3a3030" stroke-width="1.3" stroke-linejoin="round"/>
<path d="M1139.98,624.87 A354.5,354.5 0 0 1 1073.45,399.56 L1091.93,400.50 A336.0,336.0 0 0 0 1154.98,614.05 Z" fill="#4FB873" stroke="#3a3030" stroke-width="1.3" stroke-linejoin="round"/>
<path d="M1075.35,376.75 A354.5,354.5 0 0 1 1117.15,246.18 L1133.34,255.12 A336.0,336.0 0 0 0 1093.73,378.88 Z" fill="#B06CEA" stroke="#3a3030" stroke-width="1.3" stroke-linejoin="round"/>
<path d="M1129.52,225.46 A354.5,354.5 0 0 1 1174.65,169.03 L1187.85,181.99 A336.0,336.0 0 0 0 1145.07,235.49 Z" fill="#D4A22C" stroke="#3a3030" stroke-width="1.3" stroke-linejoin="round"/>
<path d="M1191.21,153.23 A354.5,354.5 0 0 1 1270.99,99.42 L1279.15,116.02 A336.0,336.0 0 0 0 1203.55,167.02 Z" fill="#5EDDD2" stroke="#3a3030" stroke-width="1.3" stroke-linejoin="round"/>
<path d="M1291.84,89.98 A354.5,354.5 0 0 1 1332.76,75.89 L1337.71,93.72 A336.0,336.0 0 0 0 1298.92,107.08 Z" fill="#7C474F" stroke="#3a3030" stroke-width="1.3" stroke-linejoin="round"/>
<path d="M1355.01,70.49 A354.5,354.5 0 0 1 1426.26,63.00 L1426.33,81.50 A336.0,336.0 0 0 0 1358.79,88.60 Z" fill="#9AA23A" stroke="#3a3030" stroke-width="1.3" stroke-linejoin="round"/>
<text transform="translate(1371.0,43.5) scale(1.07,1)" font-size="29.5" text-anchor="start" font-weight="bold">Zn</text>
<text transform="translate(1292.0,61.0) scale(1.07,1)" font-size="29.5" text-anchor="start" font-weight="bold">Cr</text>
<text transform="translate(1192.0,104.5) scale(1.07,1)" font-size="29.5" text-anchor="start" font-weight="bold">Ni</text>
<text transform="translate(1104.5,180.0) scale(1.07,1)" font-size="29.5" text-anchor="start" font-weight="bold">Fe</text>
<text transform="translate(1036.0,315.5) scale(1.07,1)" font-size="29.5" text-anchor="start" font-weight="bold">Cu</text>
<text transform="translate(1034.0,533.5) scale(1.07,1)" font-size="29.5" text-anchor="start" font-weight="bold">Co</text>
<text transform="translate(1146.0,716.0) scale(1.07,1)" font-size="29.5" text-anchor="start" font-weight="bold">Al</text>
<text transform="translate(1311.0,800.0) scale(1.07,1)" font-size="29.5" text-anchor="start" font-weight="bold">Zr</text>
<text transform="translate(1527.5,61) scale(1.07,1)" font-size="29.5" font-weight="bold"><tspan dy="0">C</tspan><tspan font-size="20" dy="8">2</tspan><tspan dy="-8">H</tspan><tspan font-size="20" dy="8">4</tspan></text>
<text transform="translate(1791,374) scale(1.07,1)" font-size="29.5" font-weight="bold"><tspan dy="0">CO</tspan><tspan font-size="20" dy="8">2</tspan></text>
<text transform="translate(1715,675) scale(1.07,1)" font-size="29.5" font-weight="bold"><tspan dy="0">C</tspan><tspan font-size="20" dy="8">3</tspan><tspan dy="-8">H</tspan><tspan font-size="20" dy="8">6</tspan></text>
<text transform="translate(1669.0,724.0) scale(1.07,1)" font-size="29.5" text-anchor="start" font-weight="bold">Xe/Kr</text>
<text transform="translate(1630.5,752) scale(1.07,1)" font-size="29.5" font-weight="bold"><tspan dy="0">SO</tspan><tspan font-size="20" dy="8">2</tspan></text>
<text transform="translate(1494.5,802) scale(1.07,1)" font-size="29.5" font-weight="bold"><tspan dy="0">C</tspan><tspan font-size="20" dy="8">6</tspan><tspan dy="-8">H</tspan><tspan font-size="20" dy="8">6</tspan></text>
<defs><linearGradient id="gc00" gradientUnits="userSpaceOnUse" x1="149.0" y1="0" x2="711.0" y2="0"><stop offset="0" stop-color="#6CA4DF"/><stop offset="1" stop-color="#54C578"/></linearGradient><linearGradient id="gc01" gradientUnits="userSpaceOnUse" x1="149.0" y1="0" x2="711.0" y2="0"><stop offset="0" stop-color="#6CA4DF"/><stop offset="1" stop-color="#4A80E9"/></linearGradient><linearGradient id="gc02" gradientUnits="userSpaceOnUse" x1="149.0" y1="0" x2="711.0" y2="0"><stop offset="0" stop-color="#6CA4DF"/><stop offset="1" stop-color="#F2414A"/></linearGradient><linearGradient id="gc03" gradientUnits="userSpaceOnUse" x1="149.0" y1="0" x2="711.0" y2="0"><stop offset="0" stop-color="#6CA4DF"/><stop offset="1" stop-color="#64F2E2"/></linearGradient><linearGradient id="gc04" gradientUnits="userSpaceOnUse" x1="149.0" y1="0" x2="711.0" y2="0"><stop offset="0" stop-color="#6CA4DF"/><stop offset="1" stop-color="#7E4A52"/></linearGradient><linearGradient id="gc05" gradientUnits="userSpaceOnUse" x1="149.0" y1="0" x2="711.0" y2="0"><stop offset="0" stop-color="#6CA4DF"/><stop offset="1" stop-color="#C172F2"/></linearGradient><linearGradient id="gc06" gradientUnits="userSpaceOnUse" x1="149.0" y1="0" x2="711.0" y2="0"><stop offset="0" stop-color="#6CA4DF"/><stop offset="1" stop-color="#9EA622"/></linearGradient><linearGradient id="gc07" gradientUnits="userSpaceOnUse" x1="149.0" y1="0" x2="711.0" y2="0"><stop offset="0" stop-color="#6CA4DF"/><stop offset="1" stop-color="#D6A82A"/></linearGradient><linearGradient id="gc10" gradientUnits="userSpaceOnUse" x1="149.0" y1="0" x2="711.0" y2="0"><stop offset="0" stop-color="#F2404A"/><stop offset="1" stop-color="#54C578"/></linearGradient><linearGradient id="gc11" gradientUnits="userSpaceOnUse" x1="149.0" y1="0" x2="711.0" y2="0"><stop offset="0" stop-color="#F2404A"/><stop offset="1" stop-color="#4A80E9"/></linearGradient><linearGradient id="gc12" gradientUnits="userSpaceOnUse" x1="149.0" y1="0" x2="711.0" y2="0"><stop offset="0" stop-color="#F2404A"/><stop offset="1" stop-color="#F2414A"/></linearGradient><linearGradient id="gc13" gradientUnits="userSpaceOnUse" x1="149.0" y1="0" x2="711.0" y2="0"><stop offset="0" stop-color="#F2404A"/><stop offset="1" stop-color="#64F2E2"/></linearGradient><linearGradient id="gc14" gradientUnits="userSpaceOnUse" x1="149.0" y1="0" x2="711.0" y2="0"><stop offset="0" stop-color="#F2404A"/><stop offset="1" stop-color="#7E4A52"/></linearGradient><linearGradient id="gc15" gradientUnits="userSpaceOnUse" x1="149.0" y1="0" x2="711.0" y2="0"><stop offset="0" stop-color="#F2404A"/><stop offset="1" stop-color="#C172F2"/></linearGradient><linearGradient id="gc16" gradientUnits="userSpaceOnUse" x1="149.0" y1="0" x2="711.0" y2="0"><stop offset="0" stop-color="#F2404A"/><stop offset="1" stop-color="#9EA622"/></linearGradient><linearGradient id="gc17" gradientUnits="userSpaceOnUse" x1="149.0" y1="0" x2="711.0" y2="0"><stop offset="0" stop-color="#F2404A"/><stop offset="1" stop-color="#D6A82A"/></linearGradient><linearGradient id="gc20" gradientUnits="userSpaceOnUse" x1="149.0" y1="0" x2="711.0" y2="0"><stop offset="0" stop-color="#565656"/><stop offset="1" stop-color="#54C578"/></linearGradient><linearGradient id="gc21" gradientUnits="userSpaceOnUse" x1="149.0" y1="0" x2="711.0" y2="0"><stop offset="0" stop-color="#565656"/><stop offset="1" stop-color="#4A80E9"/></linearGradient><linearGradient id="gc22" gradientUnits="userSpaceOnUse" x1="149.0" y1="0" x2="711.0" y2="0"><stop offset="0" stop-color="#565656"/><stop offset="1" stop-color="#F2414A"/></linearGradient><linearGradient id="gc23" gradientUnits="userSpaceOnUse" x1="149.0" y1="0" x2="711.0" y2="0"><stop offset="0" stop-color="#565656"/><stop offset="1" stop-color="#64F2E2"/></linearGradient><linearGradient id="gc24" gradientUnits="userSpaceOnUse" x1="149.0" y1="0" x2="711.0" y2="0"><stop offset="0" stop-color="#565656"/><stop offset="1" stop-color="#7E4A52"/></linearGradient><linearGradient id="gc25" gradientUnits="userSpaceOnUse" x1="149.0" y1="0" x2="711.0" y2="0"><stop offset="0" stop-color="#565656"/><stop offset="1" stop-color="#C172F2"/></linearGradient><linearGradient id="gc26" gradientUnits="userSpaceOnUse" x1="149.0" y1="0" x2="711.0" y2="0"><stop offset="0" stop-color="#565656"/><stop offset="1" stop-color="#9EA622"/></linearGradient><linearGradient id="gc27" gradientUnits="userSpaceOnUse" x1="149.0" y1="0" x2="711.0" y2="0"><stop offset="0" stop-color="#565656"/><stop offset="1" stop-color="#D6A82A"/></linearGradient><linearGradient id="gc30" gradientUnits="userSpaceOnUse" x1="149.0" y1="0" x2="711.0" y2="0"><stop offset="0" stop-color="#84D92C"/><stop offset="1" stop-color="#54C578"/></linearGradient><linearGradient id="gc31" gradientUnits="userSpaceOnUse" x1="149.0" y1="0" x2="711.0" y2="0"><stop offset="0" stop-color="#84D92C"/><stop offset="1" stop-color="#4A80E9"/></linearGradient><linearGradient id="gc32" gradientUnits="userSpaceOnUse" x1="149.0" y1="0" x2="711.0" y2="0"><stop offset="0" stop-color="#84D92C"/><stop offset="1" stop-color="#F2414A"/></linearGradient><linearGradient id="gc33" gradientUnits="userSpaceOnUse" x1="149.0" y1="0" x2="711.0" y2="0"><stop offset="0" stop-color="#84D92C"/><stop offset="1" stop-color="#64F2E2"/></linearGradient><linearGradient id="gc34" gradientUnits="userSpaceOnUse" x1="149.0" y1="0" x2="711.0" y2="0"><stop offset="0" stop-color="#84D92C"/><stop offset="1" stop-color="#7E4A52"/></linearGradient><linearGradient id="gc35" gradientUnits="userSpaceOnUse" x1="149.0" y1="0" x2="711.0" y2="0"><stop offset="0" stop-color="#84D92C"/><stop offset="1" stop-color="#C172F2"/></linearGradient><linearGradient id="gc36" gradientUnits="userSpaceOnUse" x1="149.0" y1="0" x2="711.0" y2="0"><stop offset="0" stop-color="#84D92C"/><stop offset="1" stop-color="#9EA622"/></linearGradient><linearGradient id="gc37" gradientUnits="userSpaceOnUse" x1="149.0" y1="0" x2="711.0" y2="0"><stop offset="0" stop-color="#84D92C"/><stop offset="1" stop-color="#D6A82A"/></linearGradient><linearGradient id="gc40" gradientUnits="userSpaceOnUse" x1="149.0" y1="0" x2="711.0" y2="0"><stop offset="0" stop-color="#54BF79"/><stop offset="1" stop-color="#54C578"/></linearGradient><linearGradient id="gc41" gradientUnits="userSpaceOnUse" x1="149.0" y1="0" x2="711.0" y2="0"><stop offset="0" stop-color="#54BF79"/><stop offset="1" stop-color="#4A80E9"/></linearGradient><linearGradient id="gc42" gradientUnits="userSpaceOnUse" x1="149.0" y1="0" x2="711.0" y2="0"><stop offset="0" stop-color="#54BF79"/><stop offset="1" stop-color="#F2414A"/></linearGradient><linearGradient id="gc43" gradientUnits="userSpaceOnUse" x1="149.0" y1="0" x2="711.0" y2="0"><stop offset="0" stop-color="#54BF79"/><stop offset="1" stop-color="#64F2E2"/></linearGradient><linearGradient id="gc44" gradientUnits="userSpaceOnUse" x1="149.0" y1="0" x2="711.0" y2="0"><stop offset="0" stop-color="#54BF79"/><stop offset="1" stop-color="#7E4A52"/></linearGradient><linearGradient id="gc45" gradientUnits="userSpaceOnUse" x1="149.0" y1="0" x2="711.0" y2="0"><stop offset="0" stop-color="#54BF79"/><stop offset="1" stop-color="#C172F2"/></linearGradient><linearGradient id="gc46" gradientUnits="userSpaceOnUse" x1="149.0" y1="0" x2="711.0" y2="0"><stop offset="0" stop-color="#54BF79"/><stop offset="1" stop-color="#9EA622"/></linearGradient><linearGradient id="gc47" gradientUnits="userSpaceOnUse" x1="149.0" y1="0" x2="711.0" y2="0"><stop offset="0" stop-color="#54BF79"/><stop offset="1" stop-color="#D6A82A"/></linearGradient><linearGradient id="gc50" gradientUnits="userSpaceOnUse" x1="149.0" y1="0" x2="711.0" y2="0"><stop offset="0" stop-color="#4A7FE8"/><stop offset="1" stop-color="#54C578"/></linearGradient><linearGradient id="gc51" gradientUnits="userSpaceOnUse" x1="149.0" y1="0" x2="711.0" y2="0"><stop offset="0" stop-color="#4A7FE8"/><stop offset="1" stop-color="#4A80E9"/></linearGradient><linearGradient id="gc52" gradientUnits="userSpaceOnUse" x1="149.0" y1="0" x2="711.0" y2="0"><stop offset="0" stop-color="#4A7FE8"/><stop offset="1" stop-color="#F2414A"/></linearGradient><linearGradient id="gc53" gradientUnits="userSpaceOnUse" x1="149.0" y1="0" x2="711.0" y2="0"><stop offset="0" stop-color="#4A7FE8"/><stop offset="1" stop-color="#64F2E2"/></linearGradient><linearGradient id="gc54" gradientUnits="userSpaceOnUse" x1="149.0" y1="0" x2="711.0" y2="0"><stop offset="0" stop-color="#4A7FE8"/><stop offset="1" stop-color="#7E4A52"/></linearGradient><linearGradient id="gc55" gradientUnits="userSpaceOnUse" x1="149.0" y1="0" x2="711.0" y2="0"><stop offset="0" stop-color="#4A7FE8"/><stop offset="1" stop-color="#C172F2"/></linearGradient><linearGradient id="gc56" gradientUnits="userSpaceOnUse" x1="149.0" y1="0" x2="711.0" y2="0"><stop offset="0" stop-color="#4A7FE8"/><stop offset="1" stop-color="#9EA622"/></linearGradient><linearGradient id="gc57" gradientUnits="userSpaceOnUse" x1="149.0" y1="0" x2="711.0" y2="0"><stop offset="0" stop-color="#4A7FE8"/><stop offset="1" stop-color="#D6A82A"/></linearGradient><linearGradient id="gc60" gradientUnits="userSpaceOnUse" x1="149.0" y1="0" x2="711.0" y2="0"><stop offset="0" stop-color="#585858"/><stop offset="1" stop-color="#54C578"/></linearGradient><linearGradient id="gc61" gradientUnits="userSpaceOnUse" x1="149.0" y1="0" x2="711.0" y2="0"><stop offset="0" stop-color="#585858"/><stop offset="1" stop-color="#4A80E9"/></linearGradient><linearGradient id="gc62" gradientUnits="userSpaceOnUse" x1="149.0" y1="0" x2="711.0" y2="0"><stop offset="0" stop-color="#585858"/><stop offset="1" stop-color="#F2414A"/></linearGradient><linearGradient id="gc63" gradientUnits="userSpaceOnUse" x1="149.0" y1="0" x2="711.0" y2="0"><stop offset="0" stop-color="#585858"/><stop offset="1" stop-color="#64F2E2"/></linearGradient><linearGradient id="gc64" gradientUnits="userSpaceOnUse" x1="149.0" y1="0" x2="711.0" y2="0"><stop offset="0" stop-color="#585858"/><stop offset="1" stop-color="#7E4A52"/></linearGradient><linearGradient id="gc65" gradientUnits="userSpaceOnUse" x1="149.0" y1="0" x2="711.0" y2="0"><stop offset="0" stop-color="#585858"/><stop offset="1" stop-color="#C172F2"/></linearGradient><linearGradient id="gc66" gradientUnits="userSpaceOnUse" x1="149.0" y1="0" x2="711.0" y2="0"><stop offset="0" stop-color="#585858"/><stop offset="1" stop-color="#9EA622"/></linearGradient><linearGradient id="gc67" gradientUnits="userSpaceOnUse" x1="149.0" y1="0" x2="711.0" y2="0"><stop offset="0" stop-color="#585858"/><stop offset="1" stop-color="#D6A82A"/></linearGradient><linearGradient id="gc70" gradientUnits="userSpaceOnUse" x1="149.0" y1="0" x2="711.0" y2="0"><stop offset="0" stop-color="#F0701E"/><stop offset="1" stop-color="#54C578"/></linearGradient><linearGradient id="gc71" gradientUnits="userSpaceOnUse" x1="149.0" y1="0" x2="711.0" y2="0"><stop offset="0" stop-color="#F0701E"/><stop offset="1" stop-color="#4A80E9"/></linearGradient><linearGradient id="gc72" gradientUnits="userSpaceOnUse" x1="149.0" y1="0" x2="711.0" y2="0"><stop offset="0" stop-color="#F0701E"/><stop offset="1" stop-color="#F2414A"/></linearGradient><linearGradient id="gc73" gradientUnits="userSpaceOnUse" x1="149.0" y1="0" x2="711.0" y2="0"><stop offset="0" stop-color="#F0701E"/><stop offset="1" stop-color="#64F2E2"/></linearGradient><linearGradient id="gc74" gradientUnits="userSpaceOnUse" x1="149.0" y1="0" x2="711.0" y2="0"><stop offset="0" stop-color="#F0701E"/><stop offset="1" stop-color="#7E4A52"/></linearGradient><linearGradient id="gc75" gradientUnits="userSpaceOnUse" x1="149.0" y1="0" x2="711.0" y2="0"><stop offset="0" stop-color="#F0701E"/><stop offset="1" stop-color="#C172F2"/></linearGradient><linearGradient id="gc76" gradientUnits="userSpaceOnUse" x1="149.0" y1="0" x2="711.0" y2="0"><stop offset="0" stop-color="#F0701E"/><stop offset="1" stop-color="#9EA622"/></linearGradient><linearGradient id="gc77" gradientUnits="userSpaceOnUse" x1="149.0" y1="0" x2="711.0" y2="0"><stop offset="0" stop-color="#F0701E"/><stop offset="1" stop-color="#D6A82A"/></linearGradient></defs>
<path d="M149.0,876.00 C261.4,876.00 598.6,875.50 711.0,875.50 L711.0,924.40 C598.6,924.40 261.4,924.36 149.0,924.36 Z" fill="url(#gc00)" fill-opacity="0.45"/>
<path d="M149.0,924.36 C261.4,924.36 598.6,1098.00 711.0,1098.00 L711.0,1142.31 C598.6,1142.31 261.4,968.19 149.0,968.19 Z" fill="url(#gc01)" fill-opacity="0.45"/>
<path d="M149.0,968.19 C261.4,968.19 598.6,1312.20 711.0,1312.20 L711.0,1322.29 C598.6,1322.29 261.4,978.16 149.0,978.16 Z" fill="url(#gc02)" fill-opacity="0.45"/>
<path d="M149.0,978.16 C261.4,978.16 598.6,1405.40 711.0,1405.40 L711.0,1411.81 C598.6,1411.81 261.4,984.50 149.0,984.50 Z" fill="url(#gc03)" fill-opacity="0.45"/>
<path d="M149.0,984.50 C261.4,984.50 598.6,1441.80 711.0,1441.80 L711.0,1462.50 C598.6,1462.50 261.4,1004.97 149.0,1004.97 Z" fill="url(#gc04)" fill-opacity="0.45"/>
<path d="M149.0,1004.97 C261.4,1004.97 598.6,1542.20 711.0,1542.20 L711.0,1547.47 C598.6,1547.47 261.4,1010.18 149.0,1010.18 Z" fill="url(#gc05)" fill-opacity="0.45"/>
<path d="M149.0,1010.18 C261.4,1010.18 598.6,1589.20 711.0,1589.20 L711.0,1592.18 C598.6,1592.18 261.4,1013.13 149.0,1013.13 Z" fill="url(#gc06)" fill-opacity="0.45"/>
<path d="M149.0,1013.13 C261.4,1013.13 598.6,1629.20 711.0,1629.20 L711.0,1636.65 C598.6,1636.65 261.4,1020.50 149.0,1020.50 Z" fill="url(#gc07)" fill-opacity="0.45"/>
<path d="M149.0,1032.20 C261.4,1032.20 598.6,924.40 711.0,924.40 L711.0,951.13 C598.6,951.13 261.4,1058.63 149.0,1058.63 Z" fill="url(#gc10)" fill-opacity="0.45"/>
<path d="M149.0,1058.63 C261.4,1058.63 598.6,1142.31 711.0,1142.31 L711.0,1159.75 C598.6,1159.75 261.4,1075.87 149.0,1075.87 Z" fill="url(#gc11)" fill-opacity="0.45"/>
<path d="M149.0,1075.87 C261.4,1075.87 598.6,1322.29 711.0,1322.29 L711.0,1336.43 C598.6,1336.43 261.4,1089.85 149.0,1089.85 Z" fill="url(#gc12)" fill-opacity="0.45"/>
<path d="M149.0,1089.85 C261.4,1089.85 598.6,1411.81 711.0,1411.81 L711.0,1414.67 C598.6,1414.67 261.4,1092.69 149.0,1092.69 Z" fill="url(#gc13)" fill-opacity="0.45"/>
<path d="M149.0,1092.69 C261.4,1092.69 598.6,1462.50 711.0,1462.50 L711.0,1480.60 C598.6,1480.60 261.4,1110.59 149.0,1110.59 Z" fill="url(#gc14)" fill-opacity="0.45"/>
<path d="M149.0,1110.59 C261.4,1110.59 598.6,1547.47 711.0,1547.47 L711.0,1551.86 C598.6,1551.86 261.4,1114.93 149.0,1114.93 Z" fill="url(#gc15)" fill-opacity="0.45"/>
<path d="M149.0,1114.93 C261.4,1114.93 598.6,1592.18 711.0,1592.18 L711.0,1594.35 C598.6,1594.35 261.4,1117.08 149.0,1117.08 Z" fill="url(#gc16)" fill-opacity="0.45"/>
<path d="M149.0,1117.08 C261.4,1117.08 598.6,1636.65 711.0,1636.65 L711.0,1641.83 C598.6,1641.83 261.4,1122.20 149.0,1122.20 Z" fill="url(#gc17)" fill-opacity="0.45"/>
<path d="M149.0,1138.60 C261.4,1138.60 598.6,951.13 711.0,951.13 L711.0,989.22 C598.6,989.22 261.4,1176.27 149.0,1176.27 Z" fill="url(#gc20)" fill-opacity="0.45"/>
<path d="M149.0,1176.27 C261.4,1176.27 598.6,1159.75 711.0,1159.75 L711.0,1187.21 C598.6,1187.21 261.4,1203.43 149.0,1203.43 Z" fill="url(#gc21)" fill-opacity="0.45"/>
<path d="M149.0,1203.43 C261.4,1203.43 598.6,1336.43 711.0,1336.43 L711.0,1343.31 C598.6,1343.31 261.4,1210.24 149.0,1210.24 Z" fill="url(#gc22)" fill-opacity="0.45"/>
<path d="M149.0,1210.24 C261.4,1210.24 598.6,1414.67 711.0,1414.67 L711.0,1421.39 C598.6,1421.39 261.4,1216.88 149.0,1216.88 Z" fill="url(#gc23)" fill-opacity="0.45"/>
<path d="M149.0,1216.88 C261.4,1216.88 598.6,1480.60 711.0,1480.60 L711.0,1498.42 C598.6,1498.42 261.4,1234.51 149.0,1234.51 Z" fill="url(#gc24)" fill-opacity="0.45"/>
<path d="M149.0,1234.51 C261.4,1234.51 598.6,1551.86 711.0,1551.86 L711.0,1559.49 C598.6,1559.49 261.4,1242.05 149.0,1242.05 Z" fill="url(#gc25)" fill-opacity="0.45"/>
<path d="M149.0,1242.05 C261.4,1242.05 598.6,1594.35 711.0,1594.35 L711.0,1598.88 C598.6,1598.88 261.4,1246.53 149.0,1246.53 Z" fill="url(#gc26)" fill-opacity="0.45"/>
<path d="M149.0,1246.53 C261.4,1246.53 598.6,1641.83 711.0,1641.83 L711.0,1662.33 C598.6,1662.33 261.4,1266.80 149.0,1266.80 Z" fill="url(#gc27)" fill-opacity="0.45"/>
<path d="M149.0,1280.20 C261.4,1280.20 598.6,989.22 711.0,989.22 L711.0,1029.43 C598.6,1029.43 261.4,1319.96 149.0,1319.96 Z" fill="url(#gc30)" fill-opacity="0.45"/>
<path d="M149.0,1319.96 C261.4,1319.96 598.6,1187.21 711.0,1187.21 L711.0,1219.26 C598.6,1219.26 261.4,1351.66 149.0,1351.66 Z" fill="url(#gc31)" fill-opacity="0.45"/>
<path d="M149.0,1351.66 C261.4,1351.66 598.6,1343.31 711.0,1343.31 L711.0,1365.07 C598.6,1365.07 261.4,1373.17 149.0,1373.17 Z" fill="url(#gc32)" fill-opacity="0.45"/>
<path d="M149.0,1373.17 C261.4,1373.17 598.6,1421.39 711.0,1421.39 L711.0,1424.83 C598.6,1424.83 261.4,1376.58 149.0,1376.58 Z" fill="url(#gc33)" fill-opacity="0.45"/>
<path d="M149.0,1376.58 C261.4,1376.58 598.6,1498.42 711.0,1498.42 L711.0,1504.23 C598.6,1504.23 261.4,1382.31 149.0,1382.31 Z" fill="url(#gc34)" fill-opacity="0.45"/>
<path d="M149.0,1382.31 C261.4,1382.31 598.6,1559.49 711.0,1559.49 L711.0,1563.01 C598.6,1563.01 261.4,1385.79 149.0,1385.79 Z" fill="url(#gc35)" fill-opacity="0.45"/>
<path d="M149.0,1385.79 C261.4,1385.79 598.6,1598.88 711.0,1598.88 L711.0,1600.97 C598.6,1600.97 261.4,1387.86 149.0,1387.86 Z" fill="url(#gc36)" fill-opacity="0.45"/>
<path d="M149.0,1387.86 C261.4,1387.86 598.6,1662.33 711.0,1662.33 L711.0,1678.25 C598.6,1678.25 261.4,1403.60 149.0,1403.60 Z" fill="url(#gc37)" fill-opacity="0.45"/>
<path d="M149.0,1416.20 C261.4,1416.20 598.6,1029.43 711.0,1029.43 L711.0,1052.30 C598.6,1052.30 261.4,1438.82 149.0,1438.82 Z" fill="url(#gc40)" fill-opacity="0.45"/>
<path d="M149.0,1438.82 C261.4,1438.82 598.6,1219.26 711.0,1219.26 L711.0,1247.13 C598.6,1247.13 261.4,1466.38 149.0,1466.38 Z" fill="url(#gc41)" fill-opacity="0.45"/>
<path d="M149.0,1466.38 C261.4,1466.38 598.6,1365.07 711.0,1365.07 L711.0,1378.03 C598.6,1378.03 261.4,1479.20 149.0,1479.20 Z" fill="url(#gc42)" fill-opacity="0.45"/>
<path d="M149.0,1479.20 C261.4,1479.20 598.6,1424.83 711.0,1424.83 L711.0,1428.37 C598.6,1428.37 261.4,1482.70 149.0,1482.70 Z" fill="url(#gc43)" fill-opacity="0.45"/>
<path d="M149.0,1482.70 C261.4,1482.70 598.6,1504.23 711.0,1504.23 L711.0,1514.77 C598.6,1514.77 261.4,1493.13 149.0,1493.13 Z" fill="url(#gc44)" fill-opacity="0.45"/>
<path d="M149.0,1493.13 C261.4,1493.13 598.6,1563.01 711.0,1563.01 L711.0,1566.63 C598.6,1566.63 261.4,1496.70 149.0,1496.70 Z" fill="url(#gc45)" fill-opacity="0.45"/>
<path d="M149.0,1496.70 C261.4,1496.70 598.6,1600.97 711.0,1600.97 L711.0,1603.11 C598.6,1603.11 261.4,1498.83 149.0,1498.83 Z" fill="url(#gc46)" fill-opacity="0.45"/>
<path d="M149.0,1498.83 C261.4,1498.83 598.6,1678.25 711.0,1678.25 L711.0,1692.57 C598.6,1692.57 261.4,1513.00 149.0,1513.00 Z" fill="url(#gc47)" fill-opacity="0.45"/>
<path d="M149.0,1527.80 C261.4,1527.80 598.6,1052.30 711.0,1052.30 L711.0,1065.22 C598.6,1065.22 261.4,1540.57 149.0,1540.57 Z" fill="url(#gc50)" fill-opacity="0.45"/>
<path d="M149.0,1540.57 C261.4,1540.57 598.6,1247.13 711.0,1247.13 L711.0,1262.77 C598.6,1262.77 261.4,1556.04 149.0,1556.04 Z" fill="url(#gc51)" fill-opacity="0.45"/>
<path d="M149.0,1556.04 C261.4,1556.04 598.6,1378.03 711.0,1378.03 L711.0,1380.96 C598.6,1380.96 261.4,1558.94 149.0,1558.94 Z" fill="url(#gc52)" fill-opacity="0.45"/>
<path d="M149.0,1558.94 C261.4,1558.94 598.6,1428.37 711.0,1428.37 L711.0,1429.86 C598.6,1429.86 261.4,1560.41 149.0,1560.41 Z" fill="url(#gc53)" fill-opacity="0.45"/>
<path d="M149.0,1560.41 C261.4,1560.41 598.6,1514.77 711.0,1514.77 L711.0,1518.94 C598.6,1518.94 261.4,1564.53 149.0,1564.53 Z" fill="url(#gc54)" fill-opacity="0.45"/>
<path d="M149.0,1564.53 C261.4,1564.53 598.6,1566.63 711.0,1566.63 L711.0,1571.18 C598.6,1571.18 261.4,1569.03 149.0,1569.03 Z" fill="url(#gc55)" fill-opacity="0.45"/>
<path d="M149.0,1569.03 C261.4,1569.03 598.6,1603.11 711.0,1603.11 L711.0,1604.61 C598.6,1604.61 261.4,1570.51 149.0,1570.51 Z" fill="url(#gc56)" fill-opacity="0.45"/>
<path d="M149.0,1570.51 C261.4,1570.51 598.6,1692.57 711.0,1692.57 L711.0,1706.52 C598.6,1706.52 261.4,1584.30 149.0,1584.30 Z" fill="url(#gc57)" fill-opacity="0.45"/>
<path d="M149.0,1597.80 C261.4,1597.80 598.6,1065.22 711.0,1065.22 L711.0,1083.59 C598.6,1083.59 261.4,1615.97 149.0,1615.97 Z" fill="url(#gc60)" fill-opacity="0.45"/>
<path d="M149.0,1615.97 C261.4,1615.97 598.6,1262.77 711.0,1262.77 L711.0,1286.48 C598.6,1286.48 261.4,1639.42 149.0,1639.42 Z" fill="url(#gc61)" fill-opacity="0.45"/>
<path d="M149.0,1639.42 C261.4,1639.42 598.6,1380.96 711.0,1380.96 L711.0,1387.79 C598.6,1387.79 261.4,1646.18 149.0,1646.18 Z" fill="url(#gc62)" fill-opacity="0.45"/>
<path d="M149.0,1646.18 C261.4,1646.18 598.6,1429.86 711.0,1429.86 L711.0,1432.08 C598.6,1432.08 261.4,1648.38 149.0,1648.38 Z" fill="url(#gc63)" fill-opacity="0.45"/>
<path d="M149.0,1648.38 C261.4,1648.38 598.6,1518.94 711.0,1518.94 L711.0,1526.23 C598.6,1526.23 261.4,1655.59 149.0,1655.59 Z" fill="url(#gc64)" fill-opacity="0.45"/>
<path d="M149.0,1655.59 C261.4,1655.59 598.6,1571.18 711.0,1571.18 L711.0,1574.97 C598.6,1574.97 261.4,1659.34 149.0,1659.34 Z" fill="url(#gc65)" fill-opacity="0.45"/>
<path d="M149.0,1659.34 C261.4,1659.34 598.6,1604.61 711.0,1604.61 L711.0,1606.86 C598.6,1606.86 261.4,1661.56 149.0,1661.56 Z" fill="url(#gc66)" fill-opacity="0.45"/>
<path d="M149.0,1661.56 C261.4,1661.56 598.6,1706.52 711.0,1706.52 L711.0,1710.80 C598.6,1710.80 261.4,1665.80 149.0,1665.80 Z" fill="url(#gc67)" fill-opacity="0.45"/>
<path d="M149.0,1677.80 C261.4,1677.80 598.6,1083.59 711.0,1083.59 L711.0,1089.20 C598.6,1089.20 261.4,1683.35 149.0,1683.35 Z" fill="url(#gc70)" fill-opacity="0.45"/>
<path d="M149.0,1683.35 C261.4,1683.35 598.6,1286.48 711.0,1286.48 L711.0,1299.40 C598.6,1299.40 261.4,1696.12 149.0,1696.12 Z" fill="url(#gc71)" fill-opacity="0.45"/>
<path d="M149.0,1696.12 C261.4,1696.12 598.6,1387.79 711.0,1387.79 L711.0,1392.80 C598.6,1392.80 261.4,1701.07 149.0,1701.07 Z" fill="url(#gc72)" fill-opacity="0.45"/>
<path d="M149.0,1701.07 C261.4,1701.07 598.6,1432.08 711.0,1432.08 L711.0,1433.60 C598.6,1433.60 261.4,1702.57 149.0,1702.57 Z" fill="url(#gc73)" fill-opacity="0.45"/>
<path d="M149.0,1702.57 C261.4,1702.57 598.6,1526.23 711.0,1526.23 L711.0,1530.50 C598.6,1530.50 261.4,1706.80 149.0,1706.80 Z" fill="url(#gc74)" fill-opacity="0.45"/>
<path d="M149.0,1706.80 C261.4,1706.80 598.6,1574.97 711.0,1574.97 L711.0,1577.30 C598.6,1577.30 261.4,1709.11 149.0,1709.11 Z" fill="url(#gc75)" fill-opacity="0.45"/>
<path d="M149.0,1709.11 C261.4,1709.11 598.6,1606.86 711.0,1606.86 L711.0,1608.40 C598.6,1608.40 261.4,1710.63 149.0,1710.63 Z" fill="url(#gc76)" fill-opacity="0.45"/>
<path d="M149.0,1710.63 C261.4,1710.63 598.6,1710.80 711.0,1710.80 L711.0,1713.00 C598.6,1713.00 261.4,1712.80 149.0,1712.80 Z" fill="url(#gc77)" fill-opacity="0.45"/>
<rect x="131.5" y="876.0" width="15.5" height="144.5" rx="2" fill="#6CA4DF" stroke="#161616" stroke-width="2.1"/>
<text transform="translate(114.5,958.9) scale(1.05,1)" font-size="29.5" text-anchor="end" font-weight="bold">Co</text>
<rect x="131.5" y="1032.2" width="15.5" height="90.0" rx="2" fill="#F2404A" stroke="#161616" stroke-width="2.1"/>
<text transform="translate(114.5,1087.8) scale(1.05,1)" font-size="29.5" text-anchor="end" font-weight="bold">Ni</text>
<rect x="131.5" y="1138.6" width="15.5" height="128.2" rx="2" fill="#565656" stroke="#161616" stroke-width="2.1"/>
<text transform="translate(114.5,1213.3) scale(1.05,1)" font-size="29.5" text-anchor="end" font-weight="bold">Fe</text>
<rect x="131.5" y="1280.2" width="15.5" height="123.4" rx="2" fill="#84D92C" stroke="#161616" stroke-width="2.1"/>
<text transform="translate(114.5,1352.5) scale(1.05,1)" font-size="29.5" text-anchor="end" font-weight="bold">Cu</text>
<rect x="131.5" y="1416.2" width="15.5" height="96.8" rx="2" fill="#54BF79" stroke="#161616" stroke-width="2.1"/>
<text transform="translate(114.5,1475.2) scale(1.05,1)" font-size="29.5" text-anchor="end" font-weight="bold">Zn</text>
<rect x="131.5" y="1527.8" width="15.5" height="56.5" rx="2" fill="#4A7FE8" stroke="#161616" stroke-width="2.1"/>
<text transform="translate(114.5,1566.6) scale(1.05,1)" font-size="29.5" text-anchor="end" font-weight="bold">Cr</text>
<rect x="131.5" y="1597.8" width="15.5" height="68.0" rx="2" fill="#585858" stroke="#161616" stroke-width="2.1"/>
<text transform="translate(114.5,1642.4) scale(1.05,1)" font-size="29.5" text-anchor="end" font-weight="bold">Zr</text>
<rect x="131.5" y="1677.8" width="15.5" height="35.0" rx="2" fill="#F0701E" stroke="#161616" stroke-width="2.1"/>
<text transform="translate(114.5,1705.9) scale(1.05,1)" font-size="29.5" text-anchor="end" font-weight="bold">Al</text>
<rect x="713.0" y="875.5" width="15.5" height="213.7" rx="2" fill="#54C578" stroke="#161616" stroke-width="2.1"/>
<text transform="translate(743.6,992.8) scale(1.0,1)" font-size="29.5" text-anchor="start" font-weight="bold" textLength="135.8" lengthAdjust="spacingAndGlyphs">Catalysis</text>
<rect x="713.0" y="1098.0" width="15.5" height="201.4" rx="2" fill="#4A80E9" stroke="#161616" stroke-width="2.1"/>
<text transform="translate(743.6,1209.1) scale(1.0,1)" font-size="29.5" text-anchor="start" font-weight="bold" textLength="226.6" lengthAdjust="spacingAndGlyphs">Gas Separation</text>
<rect x="713.0" y="1312.2" width="15.5" height="80.6" rx="2" fill="#F2414A" stroke="#161616" stroke-width="2.1"/>
<text transform="translate(743.6,1362.9) scale(1.0,1)" font-size="29.5" text-anchor="start" font-weight="bold" textLength="182.6" lengthAdjust="spacingAndGlyphs">Gas Storage</text>
<rect x="713.0" y="1405.4" width="15.5" height="28.2" rx="2" fill="#64F2E2" stroke="#161616" stroke-width="2.1"/>
<text transform="translate(743.6,1429.9) scale(1.0,1)" font-size="29.5" text-anchor="start" font-weight="bold" textLength="265.0" lengthAdjust="spacingAndGlyphs">Water Purification</text>
<rect x="713.0" y="1441.8" width="15.5" height="88.7" rx="2" fill="#7E4A52" stroke="#161616" stroke-width="2.1"/>
<text transform="translate(743.6,1496.6) scale(1.0,1)" font-size="29.5" text-anchor="start" font-weight="bold" textLength="229.1" lengthAdjust="spacingAndGlyphs">Energy Storage</text>
<rect x="713.0" y="1542.2" width="15.5" height="35.1" rx="2" fill="#C172F2" stroke="#161616" stroke-width="2.1"/>
<text transform="translate(743.6,1570.2) scale(1.0,1)" font-size="29.5" text-anchor="start" font-weight="bold" textLength="199.4" lengthAdjust="spacingAndGlyphs">Drug Delivery</text>
<rect x="713.0" y="1589.2" width="15.5" height="19.2" rx="2" fill="#9EA622" stroke="#161616" stroke-width="2.1"/>
<text transform="translate(743.6,1609.2) scale(1.0,1)" font-size="29.5" text-anchor="start" font-weight="bold" textLength="164.8" lengthAdjust="spacingAndGlyphs">Biomedical</text>
<rect x="713.0" y="1629.2" width="15.5" height="83.8" rx="2" fill="#D6A82A" stroke="#161616" stroke-width="2.1"/>
<text transform="translate(743.6,1681.5) scale(1.0,1)" font-size="29.5" text-anchor="start" font-weight="bold" textLength="120.3" lengthAdjust="spacingAndGlyphs">Sensing</text>
<text transform="translate(394.6,1767.3) scale(1.0,1)" font-size="35" text-anchor="middle" font-weight="bold" textLength="401" lengthAdjust="spacingAndGlyphs">From Knowledge Graph</text>
<defs><linearGradient id="gd00" gradientUnits="userSpaceOnUse" x1="1135.5" y1="0" x2="1698.5" y2="0"><stop offset="0" stop-color="#6CA4DF"/><stop offset="1" stop-color="#54C578"/></linearGradient><linearGradient id="gd01" gradientUnits="userSpaceOnUse" x1="1135.5" y1="0" x2="1698.5" y2="0"><stop offset="0" stop-color="#6CA4DF"/><stop offset="1" stop-color="#4A80E9"/></linearGradient><linearGradient id="gd02" gradientUnits="userSpaceOnUse" x1="1135.5" y1="0" x2="1698.5" y2="0"><stop offset="0" stop-color="#6CA4DF"/><stop offset="1" stop-color="#F2414A"/></linearGradient><linearGradient id="gd03" gradientUnits="userSpaceOnUse" x1="1135.5" y1="0" x2="1698.5" y2="0"><stop offset="0" stop-color="#6CA4DF"/><stop offset="1" stop-color="#64F2E2"/></linearGradient><linearGradient id="gd04" gradientUnits="userSpaceOnUse" x1="1135.5" y1="0" x2="1698.5" y2="0"><stop offset="0" stop-color="#6CA4DF"/><stop offset="1" stop-color="#7E4A52"/></linearGradient><linearGradient id="gd05" gradientUnits="userSpaceOnUse" x1="1135.5" y1="0" x2="1698.5" y2="0"><stop offset="0" stop-color="#6CA4DF"/><stop offset="1" stop-color="#C172F2"/></linearGradient><linearGradient id="gd06" gradientUnits="userSpaceOnUse" x1="1135.5" y1="0" x2="1698.5" y2="0"><stop offset="0" stop-color="#6CA4DF"/><stop offset="1" stop-color="#9EA622"/></linearGradient><linearGradient id="gd07" gradientUnits="userSpaceOnUse" x1="1135.5" y1="0" x2="1698.5" y2="0"><stop offset="0" stop-color="#6CA4DF"/><stop offset="1" stop-color="#D6A82A"/></linearGradient><linearGradient id="gd10" gradientUnits="userSpaceOnUse" x1="1135.5" y1="0" x2="1698.5" y2="0"><stop offset="0" stop-color="#F2404A"/><stop offset="1" stop-color="#54C578"/></linearGradient><linearGradient id="gd11" gradientUnits="userSpaceOnUse" x1="1135.5" y1="0" x2="1698.5" y2="0"><stop offset="0" stop-color="#F2404A"/><stop offset="1" stop-color="#4A80E9"/></linearGradient><linearGradient id="gd12" gradientUnits="userSpaceOnUse" x1="1135.5" y1="0" x2="1698.5" y2="0"><stop offset="0" stop-color="#F2404A"/><stop offset="1" stop-color="#F2414A"/></linearGradient><linearGradient id="gd13" gradientUnits="userSpaceOnUse" x1="1135.5" y1="0" x2="1698.5" y2="0"><stop offset="0" stop-color="#F2404A"/><stop offset="1" stop-color="#64F2E2"/></linearGradient><linearGradient id="gd14" gradientUnits="userSpaceOnUse" x1="1135.5" y1="0" x2="1698.5" y2="0"><stop offset="0" stop-color="#F2404A"/><stop offset="1" stop-color="#7E4A52"/></linearGradient><linearGradient id="gd15" gradientUnits="userSpaceOnUse" x1="1135.5" y1="0" x2="1698.5" y2="0"><stop offset="0" stop-color="#F2404A"/><stop offset="1" stop-color="#C172F2"/></linearGradient><linearGradient id="gd16" gradientUnits="userSpaceOnUse" x1="1135.5" y1="0" x2="1698.5" y2="0"><stop offset="0" stop-color="#F2404A"/><stop offset="1" stop-color="#9EA622"/></linearGradient><linearGradient id="gd17" gradientUnits="userSpaceOnUse" x1="1135.5" y1="0" x2="1698.5" y2="0"><stop offset="0" stop-color="#F2404A"/><stop offset="1" stop-color="#D6A82A"/></linearGradient><linearGradient id="gd20" gradientUnits="userSpaceOnUse" x1="1135.5" y1="0" x2="1698.5" y2="0"><stop offset="0" stop-color="#565656"/><stop offset="1" stop-color="#54C578"/></linearGradient><linearGradient id="gd21" gradientUnits="userSpaceOnUse" x1="1135.5" y1="0" x2="1698.5" y2="0"><stop offset="0" stop-color="#565656"/><stop offset="1" stop-color="#4A80E9"/></linearGradient><linearGradient id="gd22" gradientUnits="userSpaceOnUse" x1="1135.5" y1="0" x2="1698.5" y2="0"><stop offset="0" stop-color="#565656"/><stop offset="1" stop-color="#F2414A"/></linearGradient><linearGradient id="gd23" gradientUnits="userSpaceOnUse" x1="1135.5" y1="0" x2="1698.5" y2="0"><stop offset="0" stop-color="#565656"/><stop offset="1" stop-color="#64F2E2"/></linearGradient><linearGradient id="gd24" gradientUnits="userSpaceOnUse" x1="1135.5" y1="0" x2="1698.5" y2="0"><stop offset="0" stop-color="#565656"/><stop offset="1" stop-color="#7E4A52"/></linearGradient><linearGradient id="gd25" gradientUnits="userSpaceOnUse" x1="1135.5" y1="0" x2="1698.5" y2="0"><stop offset="0" stop-color="#565656"/><stop offset="1" stop-color="#C172F2"/></linearGradient><linearGradient id="gd26" gradientUnits="userSpaceOnUse" x1="1135.5" y1="0" x2="1698.5" y2="0"><stop offset="0" stop-color="#565656"/><stop offset="1" stop-color="#9EA622"/></linearGradient><linearGradient id="gd27" gradientUnits="userSpaceOnUse" x1="1135.5" y1="0" x2="1698.5" y2="0"><stop offset="0" stop-color="#565656"/><stop offset="1" stop-color="#D6A82A"/></linearGradient><linearGradient id="gd30" gradientUnits="userSpaceOnUse" x1="1135.5" y1="0" x2="1698.5" y2="0"><stop offset="0" stop-color="#84D92C"/><stop offset="1" stop-color="#54C578"/></linearGradient><linearGradient id="gd31" gradientUnits="userSpaceOnUse" x1="1135.5" y1="0" x2="1698.5" y2="0"><stop offset="0" stop-color="#84D92C"/><stop offset="1" stop-color="#4A80E9"/></linearGradient><linearGradient id="gd32" gradientUnits="userSpaceOnUse" x1="1135.5" y1="0" x2="1698.5" y2="0"><stop offset="0" stop-color="#84D92C"/><stop offset="1" stop-color="#F2414A"/></linearGradient><linearGradient id="gd33" gradientUnits="userSpaceOnUse" x1="1135.5" y1="0" x2="1698.5" y2="0"><stop offset="0" stop-color="#84D92C"/><stop offset="1" stop-color="#64F2E2"/></linearGradient><linearGradient id="gd34" gradientUnits="userSpaceOnUse" x1="1135.5" y1="0" x2="1698.5" y2="0"><stop offset="0" stop-color="#84D92C"/><stop offset="1" stop-color="#7E4A52"/></linearGradient><linearGradient id="gd35" gradientUnits="userSpaceOnUse" x1="1135.5" y1="0" x2="1698.5" y2="0"><stop offset="0" stop-color="#84D92C"/><stop offset="1" stop-color="#C172F2"/></linearGradient><linearGradient id="gd36" gradientUnits="userSpaceOnUse" x1="1135.5" y1="0" x2="1698.5" y2="0"><stop offset="0" stop-color="#84D92C"/><stop offset="1" stop-color="#9EA622"/></linearGradient><linearGradient id="gd37" gradientUnits="userSpaceOnUse" x1="1135.5" y1="0" x2="1698.5" y2="0"><stop offset="0" stop-color="#84D92C"/><stop offset="1" stop-color="#D6A82A"/></linearGradient><linearGradient id="gd40" gradientUnits="userSpaceOnUse" x1="1135.5" y1="0" x2="1698.5" y2="0"><stop offset="0" stop-color="#54BF79"/><stop offset="1" stop-color="#54C578"/></linearGradient><linearGradient id="gd41" gradientUnits="userSpaceOnUse" x1="1135.5" y1="0" x2="1698.5" y2="0"><stop offset="0" stop-color="#54BF79"/><stop offset="1" stop-color="#4A80E9"/></linearGradient><linearGradient id="gd42" gradientUnits="userSpaceOnUse" x1="1135.5" y1="0" x2="1698.5" y2="0"><stop offset="0" stop-color="#54BF79"/><stop offset="1" stop-color="#F2414A"/></linearGradient><linearGradient id="gd43" gradientUnits="userSpaceOnUse" x1="1135.5" y1="0" x2="1698.5" y2="0"><stop offset="0" stop-color="#54BF79"/><stop offset="1" stop-color="#64F2E2"/></linearGradient><linearGradient id="gd44" gradientUnits="userSpaceOnUse" x1="1135.5" y1="0" x2="1698.5" y2="0"><stop offset="0" stop-color="#54BF79"/><stop offset="1" stop-color="#7E4A52"/></linearGradient><linearGradient id="gd45" gradientUnits="userSpaceOnUse" x1="1135.5" y1="0" x2="1698.5" y2="0"><stop offset="0" stop-color="#54BF79"/><stop offset="1" stop-color="#C172F2"/></linearGradient><linearGradient id="gd46" gradientUnits="userSpaceOnUse" x1="1135.5" y1="0" x2="1698.5" y2="0"><stop offset="0" stop-color="#54BF79"/><stop offset="1" stop-color="#9EA622"/></linearGradient><linearGradient id="gd47" gradientUnits="userSpaceOnUse" x1="1135.5" y1="0" x2="1698.5" y2="0"><stop offset="0" stop-color="#54BF79"/><stop offset="1" stop-color="#D6A82A"/></linearGradient><linearGradient id="gd50" gradientUnits="userSpaceOnUse" x1="1135.5" y1="0" x2="1698.5" y2="0"><stop offset="0" stop-color="#4A7FE8"/><stop offset="1" stop-color="#54C578"/></linearGradient><linearGradient id="gd51" gradientUnits="userSpaceOnUse" x1="1135.5" y1="0" x2="1698.5" y2="0"><stop offset="0" stop-color="#4A7FE8"/><stop offset="1" stop-color="#4A80E9"/></linearGradient><linearGradient id="gd52" gradientUnits="userSpaceOnUse" x1="1135.5" y1="0" x2="1698.5" y2="0"><stop offset="0" stop-color="#4A7FE8"/><stop offset="1" stop-color="#F2414A"/></linearGradient><linearGradient id="gd53" gradientUnits="userSpaceOnUse" x1="1135.5" y1="0" x2="1698.5" y2="0"><stop offset="0" stop-color="#4A7FE8"/><stop offset="1" stop-color="#64F2E2"/></linearGradient><linearGradient id="gd54" gradientUnits="userSpaceOnUse" x1="1135.5" y1="0" x2="1698.5" y2="0"><stop offset="0" stop-color="#4A7FE8"/><stop offset="1" stop-color="#7E4A52"/></linearGradient><linearGradient id="gd55" gradientUnits="userSpaceOnUse" x1="1135.5" y1="0" x2="1698.5" y2="0"><stop offset="0" stop-color="#4A7FE8"/><stop offset="1" stop-color="#C172F2"/></linearGradient><linearGradient id="gd56" gradientUnits="userSpaceOnUse" x1="1135.5" y1="0" x2="1698.5" y2="0"><stop offset="0" stop-color="#4A7FE8"/><stop offset="1" stop-color="#9EA622"/></linearGradient><linearGradient id="gd57" gradientUnits="userSpaceOnUse" x1="1135.5" y1="0" x2="1698.5" y2="0"><stop offset="0" stop-color="#4A7FE8"/><stop offset="1" stop-color="#D6A82A"/></linearGradient><linearGradient id="gd60" gradientUnits="userSpaceOnUse" x1="1135.5" y1="0" x2="1698.5" y2="0"><stop offset="0" stop-color="#585858"/><stop offset="1" stop-color="#54C578"/></linearGradient><linearGradient id="gd61" gradientUnits="userSpaceOnUse" x1="1135.5" y1="0" x2="1698.5" y2="0"><stop offset="0" stop-color="#585858"/><stop offset="1" stop-color="#4A80E9"/></linearGradient><linearGradient id="gd62" gradientUnits="userSpaceOnUse" x1="1135.5" y1="0" x2="1698.5" y2="0"><stop offset="0" stop-color="#585858"/><stop offset="1" stop-color="#F2414A"/></linearGradient><linearGradient id="gd63" gradientUnits="userSpaceOnUse" x1="1135.5" y1="0" x2="1698.5" y2="0"><stop offset="0" stop-color="#585858"/><stop offset="1" stop-color="#64F2E2"/></linearGradient><linearGradient id="gd64" gradientUnits="userSpaceOnUse" x1="1135.5" y1="0" x2="1698.5" y2="0"><stop offset="0" stop-color="#585858"/><stop offset="1" stop-color="#7E4A52"/></linearGradient><linearGradient id="gd65" gradientUnits="userSpaceOnUse" x1="1135.5" y1="0" x2="1698.5" y2="0"><stop offset="0" stop-color="#585858"/><stop offset="1" stop-color="#C172F2"/></linearGradient><linearGradient id="gd66" gradientUnits="userSpaceOnUse" x1="1135.5" y1="0" x2="1698.5" y2="0"><stop offset="0" stop-color="#585858"/><stop offset="1" stop-color="#9EA622"/></linearGradient><linearGradient id="gd67" gradientUnits="userSpaceOnUse" x1="1135.5" y1="0" x2="1698.5" y2="0"><stop offset="0" stop-color="#585858"/><stop offset="1" stop-color="#D6A82A"/></linearGradient><linearGradient id="gd70" gradientUnits="userSpaceOnUse" x1="1135.5" y1="0" x2="1698.5" y2="0"><stop offset="0" stop-color="#F0701E"/><stop offset="1" stop-color="#54C578"/></linearGradient><linearGradient id="gd71" gradientUnits="userSpaceOnUse" x1="1135.5" y1="0" x2="1698.5" y2="0"><stop offset="0" stop-color="#F0701E"/><stop offset="1" stop-color="#4A80E9"/></linearGradient><linearGradient id="gd72" gradientUnits="userSpaceOnUse" x1="1135.5" y1="0" x2="1698.5" y2="0"><stop offset="0" stop-color="#F0701E"/><stop offset="1" stop-color="#F2414A"/></linearGradient><linearGradient id="gd73" gradientUnits="userSpaceOnUse" x1="1135.5" y1="0" x2="1698.5" y2="0"><stop offset="0" stop-color="#F0701E"/><stop offset="1" stop-color="#64F2E2"/></linearGradient><linearGradient id="gd74" gradientUnits="userSpaceOnUse" x1="1135.5" y1="0" x2="1698.5" y2="0"><stop offset="0" stop-color="#F0701E"/><stop offset="1" stop-color="#7E4A52"/></linearGradient><linearGradient id="gd75" gradientUnits="userSpaceOnUse" x1="1135.5" y1="0" x2="1698.5" y2="0"><stop offset="0" stop-color="#F0701E"/><stop offset="1" stop-color="#C172F2"/></linearGradient><linearGradient id="gd76" gradientUnits="userSpaceOnUse" x1="1135.5" y1="0" x2="1698.5" y2="0"><stop offset="0" stop-color="#F0701E"/><stop offset="1" stop-color="#9EA622"/></linearGradient><linearGradient id="gd77" gradientUnits="userSpaceOnUse" x1="1135.5" y1="0" x2="1698.5" y2="0"><stop offset="0" stop-color="#F0701E"/><stop offset="1" stop-color="#D6A82A"/></linearGradient></defs>
<path d="M1135.5,875.60 C1248.1,875.60 1585.9,875.40 1698.5,875.40 L1698.5,958.32 C1585.9,958.32 1248.1,958.30 1135.5,958.30 Z" fill="url(#gd00)" fill-opacity="0.45"/>
<path d="M1135.5,958.30 C1248.1,958.30 1585.9,1159.90 1698.5,1159.90 L1698.5,1186.22 C1585.9,1186.22 1248.1,984.56 1135.5,984.56 Z" fill="url(#gd01)" fill-opacity="0.45"/>
<path d="M1135.5,984.56 C1248.1,984.56 1585.9,1256.90 1698.5,1256.90 L1698.5,1274.14 C1585.9,1274.14 1248.1,1001.76 1135.5,1001.76 Z" fill="url(#gd02)" fill-opacity="0.45"/>
<path d="M1135.5,1001.76 C1248.1,1001.76 1585.9,1330.20 1698.5,1330.20 L1698.5,1336.53 C1585.9,1336.53 1248.1,1008.07 1135.5,1008.07 Z" fill="url(#gd03)" fill-opacity="0.45"/>
<path d="M1135.5,1008.07 C1248.1,1008.07 1585.9,1372.50 1698.5,1372.50 L1698.5,1408.65 C1585.9,1408.65 1248.1,1044.13 1135.5,1044.13 Z" fill="url(#gd04)" fill-opacity="0.45"/>
<path d="M1135.5,1044.13 C1248.1,1044.13 1585.9,1510.60 1698.5,1510.60 L1698.5,1516.62 C1585.9,1516.62 1248.1,1050.13 1135.5,1050.13 Z" fill="url(#gd05)" fill-opacity="0.45"/>
<path d="M1135.5,1050.13 C1248.1,1050.13 1585.9,1565.30 1698.5,1565.30 L1698.5,1568.10 C1585.9,1568.10 1248.1,1052.93 1135.5,1052.93 Z" fill="url(#gd06)" fill-opacity="0.45"/>
<path d="M1135.5,1052.93 C1248.1,1052.93 1585.9,1599.00 1698.5,1599.00 L1698.5,1623.94 C1585.9,1623.94 1248.1,1077.80 1135.5,1077.80 Z" fill="url(#gd07)" fill-opacity="0.45"/>
<path d="M1135.5,1091.30 C1248.1,1091.30 1585.9,958.32 1698.5,958.32 L1698.5,998.74 C1585.9,998.74 1248.1,1131.62 1135.5,1131.62 Z" fill="url(#gd10)" fill-opacity="0.45"/>
<path d="M1135.5,1131.62 C1248.1,1131.62 1585.9,1186.22 1698.5,1186.22 L1698.5,1194.57 C1585.9,1194.57 1248.1,1139.95 1135.5,1139.95 Z" fill="url(#gd11)" fill-opacity="0.45"/>
<path d="M1135.5,1139.95 C1248.1,1139.95 1585.9,1274.14 1698.5,1274.14 L1698.5,1280.26 C1585.9,1280.26 1248.1,1146.05 1135.5,1146.05 Z" fill="url(#gd12)" fill-opacity="0.45"/>
<path d="M1135.5,1146.05 C1248.1,1146.05 1585.9,1336.53 1698.5,1336.53 L1698.5,1341.57 C1585.9,1341.57 1248.1,1151.08 1135.5,1151.08 Z" fill="url(#gd13)" fill-opacity="0.45"/>
<path d="M1135.5,1151.08 C1248.1,1151.08 1585.9,1408.65 1698.5,1408.65 L1698.5,1438.02 C1585.9,1438.02 1248.1,1180.37 1135.5,1180.37 Z" fill="url(#gd14)" fill-opacity="0.45"/>
<path d="M1135.5,1180.37 C1248.1,1180.37 1585.9,1516.62 1698.5,1516.62 L1698.5,1520.06 C1585.9,1520.06 1248.1,1183.80 1135.5,1183.80 Z" fill="url(#gd15)" fill-opacity="0.45"/>
<path d="M1135.5,1183.80 C1248.1,1183.80 1585.9,1568.10 1698.5,1568.10 L1698.5,1569.85 C1585.9,1569.85 1248.1,1185.54 1135.5,1185.54 Z" fill="url(#gd16)" fill-opacity="0.45"/>
<path d="M1135.5,1185.54 C1248.1,1185.54 1585.9,1623.94 1698.5,1623.94 L1698.5,1630.61 C1585.9,1630.61 1248.1,1192.20 1135.5,1192.20 Z" fill="url(#gd17)" fill-opacity="0.45"/>
<path d="M1135.5,1206.70 C1248.1,1206.70 1585.9,998.74 1698.5,998.74 L1698.5,1043.67 C1585.9,1043.67 1248.1,1251.52 1135.5,1251.52 Z" fill="url(#gd20)" fill-opacity="0.45"/>
<path d="M1135.5,1251.52 C1248.1,1251.52 1585.9,1194.57 1698.5,1194.57 L1698.5,1202.42 C1585.9,1202.42 1248.1,1259.34 1135.5,1259.34 Z" fill="url(#gd21)" fill-opacity="0.45"/>
<path d="M1135.5,1259.34 C1248.1,1259.34 1585.9,1280.26 1698.5,1280.26 L1698.5,1285.38 C1585.9,1285.38 1248.1,1264.45 1135.5,1264.45 Z" fill="url(#gd22)" fill-opacity="0.45"/>
<path d="M1135.5,1264.45 C1248.1,1264.45 1585.9,1341.57 1698.5,1341.57 L1698.5,1346.67 C1585.9,1346.67 1248.1,1269.53 1135.5,1269.53 Z" fill="url(#gd23)" fill-opacity="0.45"/>
<path d="M1135.5,1269.53 C1248.1,1269.53 1585.9,1438.02 1698.5,1438.02 L1698.5,1451.65 C1585.9,1451.65 1248.1,1283.13 1135.5,1283.13 Z" fill="url(#gd24)" fill-opacity="0.45"/>
<path d="M1135.5,1283.13 C1248.1,1283.13 1585.9,1520.06 1698.5,1520.06 L1698.5,1528.85 C1585.9,1528.85 1248.1,1291.90 1135.5,1291.90 Z" fill="url(#gd25)" fill-opacity="0.45"/>
<path d="M1135.5,1291.90 C1248.1,1291.90 1585.9,1569.85 1698.5,1569.85 L1698.5,1573.43 C1585.9,1573.43 1248.1,1295.47 1135.5,1295.47 Z" fill="url(#gd26)" fill-opacity="0.45"/>
<path d="M1135.5,1295.47 C1248.1,1295.47 1585.9,1630.61 1698.5,1630.61 L1698.5,1647.69 C1585.9,1647.69 1248.1,1312.50 1135.5,1312.50 Z" fill="url(#gd27)" fill-opacity="0.45"/>
<path d="M1135.5,1326.00 C1248.1,1326.00 1585.9,1043.67 1698.5,1043.67 L1698.5,1083.64 C1585.9,1083.64 1248.1,1365.87 1135.5,1365.87 Z" fill="url(#gd30)" fill-opacity="0.45"/>
<path d="M1135.5,1365.87 C1248.1,1365.87 1585.9,1202.42 1698.5,1202.42 L1698.5,1219.06 C1585.9,1219.06 1248.1,1382.47 1135.5,1382.47 Z" fill="url(#gd31)" fill-opacity="0.45"/>
<path d="M1135.5,1382.47 C1248.1,1382.47 1585.9,1285.38 1698.5,1285.38 L1698.5,1298.69 C1585.9,1298.69 1248.1,1395.76 1135.5,1395.76 Z" fill="url(#gd32)" fill-opacity="0.45"/>
<path d="M1135.5,1395.76 C1248.1,1395.76 1585.9,1346.67 1698.5,1346.67 L1698.5,1350.09 C1585.9,1350.09 1248.1,1399.17 1135.5,1399.17 Z" fill="url(#gd33)" fill-opacity="0.45"/>
<path d="M1135.5,1399.17 C1248.1,1399.17 1585.9,1451.65 1698.5,1451.65 L1698.5,1465.65 C1585.9,1465.65 1248.1,1413.14 1135.5,1413.14 Z" fill="url(#gd34)" fill-opacity="0.45"/>
<path d="M1135.5,1413.14 C1248.1,1413.14 1585.9,1528.85 1698.5,1528.85 L1698.5,1533.97 C1585.9,1533.97 1248.1,1418.24 1135.5,1418.24 Z" fill="url(#gd35)" fill-opacity="0.45"/>
<path d="M1135.5,1418.24 C1248.1,1418.24 1585.9,1573.43 1698.5,1573.43 L1698.5,1578.90 C1585.9,1578.90 1248.1,1423.70 1135.5,1423.70 Z" fill="url(#gd36)" fill-opacity="0.45"/>
<path d="M1135.5,1423.70 C1248.1,1423.70 1585.9,1647.69 1698.5,1647.69 L1698.5,1669.74 C1585.9,1669.74 1248.1,1445.70 1135.5,1445.70 Z" fill="url(#gd37)" fill-opacity="0.45"/>
<path d="M1135.5,1460.20 C1248.1,1460.20 1585.9,1083.64 1698.5,1083.64 L1698.5,1109.36 C1585.9,1109.36 1248.1,1485.85 1135.5,1485.85 Z" fill="url(#gd40)" fill-opacity="0.45"/>
<path d="M1135.5,1485.85 C1248.1,1485.85 1585.9,1219.06 1698.5,1219.06 L1698.5,1229.56 C1585.9,1229.56 1248.1,1496.33 1135.5,1496.33 Z" fill="url(#gd41)" fill-opacity="0.45"/>
<path d="M1135.5,1496.33 C1248.1,1496.33 1585.9,1298.69 1698.5,1298.69 L1698.5,1306.19 C1585.9,1306.19 1248.1,1503.80 1135.5,1503.80 Z" fill="url(#gd42)" fill-opacity="0.45"/>
<path d="M1135.5,1503.80 C1248.1,1503.80 1585.9,1350.09 1698.5,1350.09 L1698.5,1354.38 C1585.9,1354.38 1248.1,1508.09 1135.5,1508.09 Z" fill="url(#gd43)" fill-opacity="0.45"/>
<path d="M1135.5,1508.09 C1248.1,1508.09 1585.9,1465.65 1698.5,1465.65 L1698.5,1480.70 C1585.9,1480.70 1248.1,1523.10 1135.5,1523.10 Z" fill="url(#gd44)" fill-opacity="0.45"/>
<path d="M1135.5,1523.10 C1248.1,1523.10 1585.9,1533.97 1698.5,1533.97 L1698.5,1539.83 C1585.9,1539.83 1248.1,1528.95 1135.5,1528.95 Z" fill="url(#gd45)" fill-opacity="0.45"/>
<path d="M1135.5,1528.95 C1248.1,1528.95 1585.9,1578.90 1698.5,1578.90 L1698.5,1583.54 C1585.9,1583.54 1248.1,1533.57 1135.5,1533.57 Z" fill="url(#gd46)" fill-opacity="0.45"/>
<path d="M1135.5,1533.57 C1248.1,1533.57 1585.9,1669.74 1698.5,1669.74 L1698.5,1691.43 C1585.9,1691.43 1248.1,1555.20 1135.5,1555.20 Z" fill="url(#gd47)" fill-opacity="0.45"/>
<path d="M1135.5,1568.10 C1248.1,1568.10 1585.9,1109.36 1698.5,1109.36 L1698.5,1118.01 C1585.9,1118.01 1248.1,1576.73 1135.5,1576.73 Z" fill="url(#gd50)" fill-opacity="0.45"/>
<path d="M1135.5,1576.73 C1248.1,1576.73 1585.9,1229.56 1698.5,1229.56 L1698.5,1235.53 C1585.9,1235.53 1248.1,1582.68 1135.5,1582.68 Z" fill="url(#gd51)" fill-opacity="0.45"/>
<path d="M1135.5,1582.68 C1248.1,1582.68 1585.9,1306.19 1698.5,1306.19 L1698.5,1308.09 C1585.9,1308.09 1248.1,1584.58 1135.5,1584.58 Z" fill="url(#gd52)" fill-opacity="0.45"/>
<path d="M1135.5,1584.58 C1248.1,1584.58 1585.9,1354.38 1698.5,1354.38 L1698.5,1355.69 C1585.9,1355.69 1248.1,1585.88 1135.5,1585.88 Z" fill="url(#gd53)" fill-opacity="0.45"/>
<path d="M1135.5,1585.88 C1248.1,1585.88 1585.9,1480.70 1698.5,1480.70 L1698.5,1483.80 C1585.9,1483.80 1248.1,1588.98 1135.5,1588.98 Z" fill="url(#gd54)" fill-opacity="0.45"/>
<path d="M1135.5,1588.98 C1248.1,1588.98 1585.9,1539.83 1698.5,1539.83 L1698.5,1542.47 C1585.9,1542.47 1248.1,1591.61 1135.5,1591.61 Z" fill="url(#gd55)" fill-opacity="0.45"/>
<path d="M1135.5,1591.61 C1248.1,1591.61 1585.9,1583.54 1698.5,1583.54 L1698.5,1584.97 C1585.9,1584.97 1248.1,1593.04 1135.5,1593.04 Z" fill="url(#gd56)" fill-opacity="0.45"/>
<path d="M1135.5,1593.04 C1248.1,1593.04 1585.9,1691.43 1698.5,1691.43 L1698.5,1699.41 C1585.9,1699.41 1248.1,1601.00 1135.5,1601.00 Z" fill="url(#gd57)" fill-opacity="0.45"/>
<path d="M1135.5,1614.00 C1248.1,1614.00 1585.9,1118.01 1698.5,1118.01 L1698.5,1137.43 C1585.9,1137.43 1248.1,1633.37 1135.5,1633.37 Z" fill="url(#gd60)" fill-opacity="0.45"/>
<path d="M1135.5,1633.37 C1248.1,1633.37 1585.9,1235.53 1698.5,1235.53 L1698.5,1240.99 C1585.9,1240.99 1248.1,1638.81 1135.5,1638.81 Z" fill="url(#gd61)" fill-opacity="0.45"/>
<path d="M1135.5,1638.81 C1248.1,1638.81 1585.9,1308.09 1698.5,1308.09 L1698.5,1311.87 C1585.9,1311.87 1248.1,1642.59 1135.5,1642.59 Z" fill="url(#gd62)" fill-opacity="0.45"/>
<path d="M1135.5,1642.59 C1248.1,1642.59 1585.9,1355.69 1698.5,1355.69 L1698.5,1357.65 C1585.9,1357.65 1248.1,1644.54 1135.5,1644.54 Z" fill="url(#gd63)" fill-opacity="0.45"/>
<path d="M1135.5,1644.54 C1248.1,1644.54 1585.9,1483.80 1698.5,1483.80 L1698.5,1492.05 C1585.9,1492.05 1248.1,1652.77 1135.5,1652.77 Z" fill="url(#gd64)" fill-opacity="0.45"/>
<path d="M1135.5,1652.77 C1248.1,1652.77 1585.9,1542.47 1698.5,1542.47 L1698.5,1546.87 C1585.9,1546.87 1248.1,1657.15 1135.5,1657.15 Z" fill="url(#gd65)" fill-opacity="0.45"/>
<path d="M1135.5,1657.15 C1248.1,1657.15 1585.9,1584.97 1698.5,1584.97 L1698.5,1587.12 C1585.9,1587.12 1248.1,1659.29 1135.5,1659.29 Z" fill="url(#gd66)" fill-opacity="0.45"/>
<path d="M1135.5,1659.29 C1248.1,1659.29 1585.9,1699.41 1698.5,1699.41 L1698.5,1709.64 C1585.9,1709.64 1248.1,1669.50 1135.5,1669.50 Z" fill="url(#gd67)" fill-opacity="0.45"/>
<path d="M1135.5,1681.40 C1248.1,1681.40 1585.9,1137.43 1698.5,1137.43 L1698.5,1147.50 C1585.9,1147.50 1248.1,1691.44 1135.5,1691.44 Z" fill="url(#gd70)" fill-opacity="0.45"/>
<path d="M1135.5,1691.44 C1248.1,1691.44 1585.9,1240.99 1698.5,1240.99 L1698.5,1245.10 C1585.9,1245.10 1248.1,1695.54 1135.5,1695.54 Z" fill="url(#gd71)" fill-opacity="0.45"/>
<path d="M1135.5,1695.54 C1248.1,1695.54 1585.9,1311.87 1698.5,1311.87 L1698.5,1315.80 C1585.9,1315.80 1248.1,1699.46 1135.5,1699.46 Z" fill="url(#gd72)" fill-opacity="0.45"/>
<path d="M1135.5,1699.46 C1248.1,1699.46 1585.9,1357.65 1698.5,1357.65 L1698.5,1359.00 C1585.9,1359.00 1248.1,1700.81 1135.5,1700.81 Z" fill="url(#gd73)" fill-opacity="0.45"/>
<path d="M1135.5,1700.81 C1248.1,1700.81 1585.9,1492.05 1698.5,1492.05 L1698.5,1497.40 C1585.9,1497.40 1248.1,1706.14 1135.5,1706.14 Z" fill="url(#gd74)" fill-opacity="0.45"/>
<path d="M1135.5,1706.14 C1248.1,1706.14 1585.9,1546.87 1698.5,1546.87 L1698.5,1549.60 C1585.9,1549.60 1248.1,1708.87 1135.5,1708.87 Z" fill="url(#gd75)" fill-opacity="0.45"/>
<path d="M1135.5,1708.87 C1248.1,1708.87 1585.9,1587.12 1698.5,1587.12 L1698.5,1588.60 C1585.9,1588.60 1248.1,1710.35 1135.5,1710.35 Z" fill="url(#gd76)" fill-opacity="0.45"/>
<path d="M1135.5,1710.35 C1248.1,1710.35 1585.9,1709.64 1698.5,1709.64 L1698.5,1712.00 C1585.9,1712.00 1248.1,1712.70 1135.5,1712.70 Z" fill="url(#gd77)" fill-opacity="0.45"/>
<rect x="1119.7" y="875.6" width="14.299999999999955" height="202.2" rx="2" fill="#6CA4DF" stroke="#161616" stroke-width="2.1"/>
<text transform="translate(1102.5,987.3) scale(1.05,1)" font-size="29.5" text-anchor="end" font-weight="bold">Co</text>
<rect x="1119.7" y="1091.3" width="14.299999999999955" height="100.9" rx="2" fill="#F2404A" stroke="#161616" stroke-width="2.1"/>
<text transform="translate(1102.5,1152.3) scale(1.05,1)" font-size="29.5" text-anchor="end" font-weight="bold">Ni</text>
<rect x="1119.7" y="1206.7" width="14.299999999999955" height="105.8" rx="2" fill="#565656" stroke="#161616" stroke-width="2.1"/>
<text transform="translate(1102.5,1270.2) scale(1.05,1)" font-size="29.5" text-anchor="end" font-weight="bold">Fe</text>
<rect x="1119.7" y="1326.0" width="14.299999999999955" height="119.7" rx="2" fill="#84D92C" stroke="#161616" stroke-width="2.1"/>
<text transform="translate(1102.5,1396.4) scale(1.05,1)" font-size="29.5" text-anchor="end" font-weight="bold">Cu</text>
<rect x="1119.7" y="1460.2" width="14.299999999999955" height="95.0" rx="2" fill="#54BF79" stroke="#161616" stroke-width="2.1"/>
<text transform="translate(1102.5,1518.3) scale(1.05,1)" font-size="29.5" text-anchor="end" font-weight="bold">Zn</text>
<rect x="1119.7" y="1568.1" width="14.299999999999955" height="32.9" rx="2" fill="#4A7FE8" stroke="#161616" stroke-width="2.1"/>
<text transform="translate(1102.5,1595.1) scale(1.05,1)" font-size="29.5" text-anchor="end" font-weight="bold">Cr</text>
<rect x="1119.7" y="1614.0" width="14.299999999999955" height="55.5" rx="2" fill="#585858" stroke="#161616" stroke-width="2.1"/>
<text transform="translate(1102.5,1652.3) scale(1.05,1)" font-size="29.5" text-anchor="end" font-weight="bold">Zr</text>
<rect x="1119.7" y="1681.4" width="14.299999999999955" height="31.3" rx="2" fill="#F0701E" stroke="#161616" stroke-width="2.1"/>
<text transform="translate(1102.5,1707.7) scale(1.05,1)" font-size="29.5" text-anchor="end" font-weight="bold">Al</text>
<rect x="1700.6" y="875.4" width="16.0" height="272.1" rx="2" fill="#54C578" stroke="#161616" stroke-width="2.1"/>
<text transform="translate(1731.3,1021.9) scale(1.0,1)" font-size="29.5" text-anchor="start" font-weight="bold" textLength="135.8" lengthAdjust="spacingAndGlyphs">Catalysis</text>
<rect x="1700.6" y="1159.9" width="16.0" height="85.2" rx="2" fill="#4A80E9" stroke="#161616" stroke-width="2.1"/>
<text transform="translate(1731.3,1212.9) scale(1.0,1)" font-size="29.5" text-anchor="start" font-weight="bold" textLength="226.6" lengthAdjust="spacingAndGlyphs">Gas Separation</text>
<rect x="1700.6" y="1256.9" width="16.0" height="58.9" rx="2" fill="#F2414A" stroke="#161616" stroke-width="2.1"/>
<text transform="translate(1731.3,1296.8) scale(1.0,1)" font-size="29.5" text-anchor="start" font-weight="bold" textLength="182.6" lengthAdjust="spacingAndGlyphs">Gas Storage</text>
<rect x="1700.6" y="1330.2" width="16.0" height="28.8" rx="2" fill="#64F2E2" stroke="#161616" stroke-width="2.1"/>
<text transform="translate(1731.3,1355.0) scale(1.0,1)" font-size="29.5" text-anchor="start" font-weight="bold" textLength="265.0" lengthAdjust="spacingAndGlyphs">Water Purification</text>
<rect x="1700.6" y="1372.5" width="16.0" height="124.9" rx="2" fill="#7E4A52" stroke="#161616" stroke-width="2.1"/>
<text transform="translate(1731.3,1445.4) scale(1.0,1)" font-size="29.5" text-anchor="start" font-weight="bold" textLength="229.1" lengthAdjust="spacingAndGlyphs">Energy Storage</text>
<rect x="1700.6" y="1510.6" width="16.0" height="39.0" rx="2" fill="#C172F2" stroke="#161616" stroke-width="2.1"/>
<text transform="translate(1731.3,1540.5) scale(1.0,1)" font-size="29.5" text-anchor="start" font-weight="bold" textLength="199.4" lengthAdjust="spacingAndGlyphs">Drug Delivery</text>
<rect x="1700.6" y="1565.3" width="16.0" height="23.3" rx="2" fill="#9EA622" stroke="#161616" stroke-width="2.1"/>
<text transform="translate(1731.3,1587.3) scale(1.0,1)" font-size="29.5" text-anchor="start" font-weight="bold" textLength="164.8" lengthAdjust="spacingAndGlyphs">Biomedical</text>
<rect x="1700.6" y="1599.0" width="16.0" height="113.0" rx="2" fill="#D6A82A" stroke="#161616" stroke-width="2.1"/>
<text transform="translate(1731.3,1665.9) scale(1.0,1)" font-size="29.5" text-anchor="start" font-weight="bold" textLength="120.3" lengthAdjust="spacingAndGlyphs">Sensing</text>
<text transform="translate(1390.2,1767.3) scale(1.0,1)" font-size="35" text-anchor="middle" font-weight="bold" textLength="361" lengthAdjust="spacingAndGlyphs">From Web of Science</text>
</svg>
</body></html>
